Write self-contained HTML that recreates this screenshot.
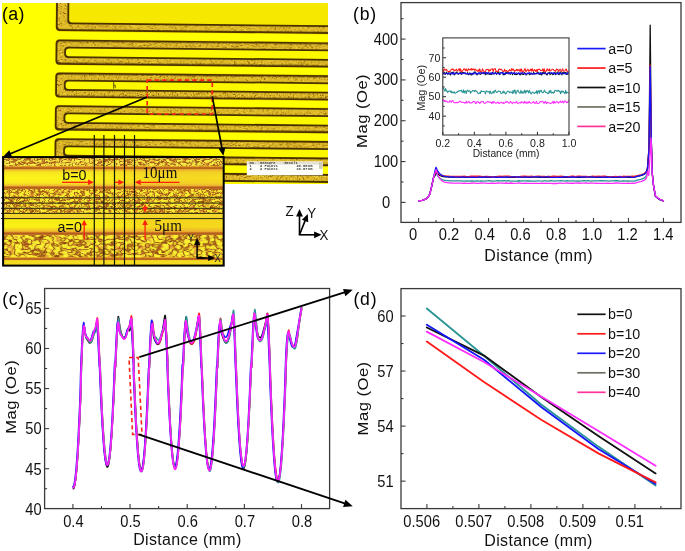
<!DOCTYPE html><html><head><meta charset="utf-8"><style>html,body{margin:0;padding:0;background:#fff;overflow:hidden}svg{display:block;will-change:transform}</style></head><body>
<svg width="685" height="551" viewBox="0 0 685 551">
<rect width="685" height="551" fill="#fff"/>
<defs>
<clipPath id="photo"><rect x="2" y="3" width="326" height="181"/></clipPath>
<clipPath id="ins"><rect x="3" y="157" width="220.5" height="108.5"/></clipPath>
<filter id="soft" x="-2%" y="-2%" width="104%" height="104%"><feGaussianBlur stdDeviation="0.45"/></filter>
<filter id="spk" x="0" y="0" width="100%" height="100%" color-interpolation-filters="sRGB">
<feTurbulence type="fractalNoise" baseFrequency="0.7 1.1" numOctaves="2" seed="4" result="n"/>
<feColorMatrix in="n" type="matrix" values="0 0 0 0 0.97  0 0 0 0 0.85  0 0 0 0 0.22  6 0 0 0 -3.3" result="s1"/>
<feColorMatrix in="n" type="matrix" values="0 0 0 0 0.52  0 0 0 0 0.33  0 0 0 0 0.03  0 -6 0 0 2.5" result="s2"/>
<feMerge result="m"><feMergeNode in="SourceGraphic"/><feMergeNode in="s1"/><feMergeNode in="s2"/></feMerge>
<feComposite in="m" in2="SourceGraphic" operator="in"/>
</filter>
<filter id="spk2" x="0" y="0" width="100%" height="100%" color-interpolation-filters="sRGB">
<feTurbulence type="fractalNoise" baseFrequency="0.2 0.3" numOctaves="2" seed="11" result="n"/>
<feColorMatrix in="n" type="matrix" values="0 0 0 0 0.62  0 0 0 0 0.30  0 0 0 0 0.08  1 0 0 0 0" result="a"/>
<feComponentTransfer in="a" result="s"><feFuncA type="table" tableValues="0 0 0 0 0.1 0.95 0.1 0 0 0 0"/></feComponentTransfer>
<feColorMatrix in="n" type="matrix" values="0 0 0 0 0.90  0 0 0 0 0.62  0 0 0 0 0.20  0 6 0 0 -3.4" result="s2"/>
<feColorMatrix in="n" type="matrix" values="0 0 0 0 0.55  0 0 0 0 0.27  0 0 0 0 0.07  0 -7 0 0 2.45" result="s3"/>
<feMerge result="m"><feMergeNode in="SourceGraphic"/><feMergeNode in="s2"/><feMergeNode in="s3"/><feMergeNode in="s"/></feMerge>
<feComposite in="m" in2="SourceGraphic" operator="in" result="c"/>
<feGaussianBlur in="c" stdDeviation="0.3"/>
</filter>
<filter id="spk3" x="0" y="0" width="100%" height="100%" color-interpolation-filters="sRGB">
<feTurbulence type="fractalNoise" baseFrequency="0.13 0.2" numOctaves="2" seed="23" result="n"/>
<feColorMatrix in="n" type="matrix" values="0 0 0 0 0.60  0 0 0 0 0.30  0 0 0 0 0.08  1 0 0 0 0" result="a"/>
<feComponentTransfer in="a" result="s"><feFuncA type="table" tableValues="0 0 0 0 0.15 0.95 0.15 0 0 0 0"/></feComponentTransfer>
<feColorMatrix in="n" type="matrix" values="0 0 0 0 0.90  0 0 0 0 0.64  0 0 0 0 0.22  0 6 0 0 -3.5" result="s2"/>
<feColorMatrix in="n" type="matrix" values="0 0 0 0 0.55  0 0 0 0 0.27  0 0 0 0 0.07  0 -7 0 0 2.45" result="s3"/>
<feMerge result="m"><feMergeNode in="SourceGraphic"/><feMergeNode in="s2"/><feMergeNode in="s3"/><feMergeNode in="s"/></feMerge>
<feComposite in="m" in2="SourceGraphic" operator="in" result="c"/>
<feGaussianBlur in="c" stdDeviation="0.3"/>
</filter>
<linearGradient id="gy1" x1="0" y1="0" x2="0" y2="1">
<stop offset="0" stop-color="#eab02c"/><stop offset="0.15" stop-color="#f8e620"/><stop offset="0.5" stop-color="#fcf618"/><stop offset="0.82" stop-color="#f8e822"/><stop offset="1" stop-color="#ecb434"/></linearGradient>
<linearGradient id="gy2" x1="0" y1="0" x2="0" y2="1">
<stop offset="0" stop-color="#f6ec14"/><stop offset="0.6" stop-color="#fcf214"/><stop offset="1" stop-color="#eab030"/></linearGradient>
<linearGradient id="gh" gradientUnits="userSpaceOnUse" x1="3" y1="0" x2="224" y2="0">
<stop offset="0" stop-color="#e8a030" stop-opacity="0"/><stop offset="0.45" stop-color="#e8a030" stop-opacity="0.05"/><stop offset="0.7" stop-color="#e8a030" stop-opacity="0.35"/><stop offset="1" stop-color="#e8a030" stop-opacity="0.3"/></linearGradient>
<linearGradient id="edge" x1="0" y1="0" x2="0" y2="1">
<stop offset="0" stop-color="#e0902a"/><stop offset="0.5" stop-color="#b05a1c"/><stop offset="1" stop-color="#c87a28"/></linearGradient>
</defs>
<g clip-path="url(#photo)">
<rect x="2" y="3" width="326" height="181" fill="#ffff00"/>
<g filter="url(#soft)"><g transform="rotate(0.6 150 90)">
<rect x="54.6" y="-30.6" width="400" height="63.2" rx="4.5" fill="#f4dc00"/>
<rect x="55.2" y="-30" width="400" height="62" rx="4" fill="#4a3004"/>
<rect x="57" y="-28.2" width="400" height="58.4" rx="3" fill="#dcb828" filter="url(#spk)"/>
<rect x="66.6" y="-31.8" width="400" height="57" rx="4" fill="#4a3004"/>
<rect x="68.4" y="-30" width="400" height="53.4" rx="3" fill="#f7e802"/>
<rect x="54.6" y="39.9" width="400" height="26.3" rx="4.5" fill="#f4dc00"/>
<rect x="55.2" y="40.5" width="400" height="25.1" rx="4" fill="#4a3004"/>
<rect x="57" y="42.3" width="400" height="21.5" rx="3" fill="#dcb828" filter="url(#spk)"/>
<rect x="63.8" y="47.6" width="400" height="11.2" rx="4" fill="#4a3004"/>
<rect x="65.6" y="49.4" width="400" height="7.6" rx="3" fill="#fcf800"/>
<rect x="54.6" y="72.8" width="400" height="26.3" rx="4.5" fill="#f4dc00"/>
<rect x="55.2" y="73.4" width="400" height="25.1" rx="4" fill="#4a3004"/>
<rect x="57" y="75.2" width="400" height="21.5" rx="3" fill="#dcb828" filter="url(#spk)"/>
<rect x="63.8" y="80.5" width="400" height="11.2" rx="4" fill="#4a3004"/>
<rect x="65.6" y="82.3" width="400" height="7.6" rx="3" fill="#fcf800"/>
<rect x="54.6" y="105.7" width="400" height="26.3" rx="4.5" fill="#f4dc00"/>
<rect x="55.2" y="106.3" width="400" height="25.1" rx="4" fill="#4a3004"/>
<rect x="57" y="108.1" width="400" height="21.5" rx="3" fill="#dcb828" filter="url(#spk)"/>
<rect x="63.8" y="113.4" width="400" height="11.2" rx="4" fill="#4a3004"/>
<rect x="65.6" y="115.2" width="400" height="7.6" rx="3" fill="#fcf800"/>
<rect x="54.6" y="138.6" width="400" height="26.3" rx="4.5" fill="#f4dc00"/>
<rect x="55.2" y="139.2" width="400" height="25.1" rx="4" fill="#4a3004"/>
<rect x="57" y="141" width="400" height="21.5" rx="3" fill="#dcb828" filter="url(#spk)"/>
<rect x="63.8" y="146.3" width="400" height="11.2" rx="4" fill="#4a3004"/>
<rect x="65.6" y="148.1" width="400" height="7.6" rx="3" fill="#fcf800"/>
<rect x="54.6" y="171.5" width="400" height="26.3" rx="4.5" fill="#f4dc00"/>
<rect x="55.2" y="172.1" width="400" height="25.1" rx="4" fill="#4a3004"/>
<rect x="57" y="173.9" width="400" height="21.5" rx="3" fill="#dcb828" filter="url(#spk)"/>
<rect x="63.8" y="179.2" width="400" height="11.2" rx="4" fill="#4a3004"/>
<rect x="65.6" y="181" width="400" height="7.6" rx="3" fill="#fcf800"/>
<rect x="54.6" y="204.4" width="400" height="26.3" rx="4.5" fill="#f4dc00"/>
<rect x="55.2" y="205" width="400" height="25.1" rx="4" fill="#4a3004"/>
<rect x="57" y="206.8" width="400" height="21.5" rx="3" fill="#dcb828" filter="url(#spk)"/>
<rect x="63.8" y="212.1" width="400" height="11.2" rx="4" fill="#4a3004"/>
<rect x="65.6" y="213.9" width="400" height="7.6" rx="3" fill="#fcf800"/>
<path d="M113.6 81 V89.2 M113.6 85.5 h1.6 v3" fill="none" stroke="#5a4a10" stroke-width="0.9"/>
</g></g>
<rect x="246.8" y="161.4" width="76" height="13.8" fill="#fdfdf8"/>
<rect x="247.2" y="161.8" width="72" height="2.8" fill="#e4e2d6"/>
<rect x="319" y="161.8" width="3.6" height="7" fill="#cfcbb4"/>
<line x1="258.3" y1="161.8" x2="258.3" y2="164.6" stroke="#b8b6a8" stroke-width="0.4" />
<line x1="283.2" y1="161.8" x2="283.2" y2="164.6" stroke="#b8b6a8" stroke-width="0.4" />
<line x1="296.5" y1="161.8" x2="296.5" y2="164.6" stroke="#b8b6a8" stroke-width="0.4" />
<g font-family='"Liberation Mono", monospace' font-size="3.7" fill="#333" font-weight="bold">
<text x="249.6" y="164.3">No.</text><text x="260" y="164.3">Measure</text><text x="284.4" y="164.3">Result</text>
<text x="249.6" y="167.4">1</text><text x="260" y="167.4">2 Points</text><text x="296.4" y="167.4">29.88</text><text x="308" y="167.4">um</text>
<text x="249.6" y="169.9">2</text><text x="260" y="169.9">2 Points</text><text x="296.4" y="169.9">10.07</text><text x="308" y="169.9">um</text>
</g>
</g>
<g clip-path="url(#ins)">
<rect x="3" y="157" width="221" height="109" fill="#f8ee10"/>
<rect x="3" y="157" width="221" height="9.6" fill="#f6ec44" filter="url(#spk2)"/>
<rect x="3" y="166.4" width="221" height="3.2" fill="url(#edge)"/>
<rect x="3" y="169.5" width="221" height="16.6" fill="url(#gy1)"/>
<rect x="3" y="169.5" width="221" height="16.6" fill="url(#gh)"/>
<rect x="3" y="186" width="221" height="3.2" fill="url(#edge)"/>
<rect x="3" y="189" width="221" height="24.5" fill="#f8ee30" filter="url(#spk2)"/>
<rect x="3" y="213.5" width="221" height="5.2" fill="#f6d82c"/>
<rect x="3" y="218.7" width="221" height="13.4" fill="url(#gy2)"/>
<rect x="3" y="218.7" width="221" height="13.4" fill="url(#gh)"/>
<rect x="3" y="231.8" width="221" height="3.2" fill="url(#edge)"/>
<rect x="3" y="235" width="221" height="22.6" fill="#f8f030" filter="url(#spk3)"/>
<rect x="3" y="257.4" width="221" height="3" fill="url(#edge)"/>
<rect x="3" y="260.4" width="221" height="6" fill="#f6dc20"/>
</g>
<line x1="1" y1="197.8" x2="223" y2="197.8" stroke="#2a2a10" stroke-width="1.0" />
<line x1="1" y1="203.1" x2="223" y2="203.1" stroke="#2a2a10" stroke-width="1.0" />
<line x1="1" y1="208.3" x2="223" y2="208.3" stroke="#2a2a10" stroke-width="1.0" />
<line x1="1" y1="213.4" x2="223" y2="213.4" stroke="#2a2a10" stroke-width="1.0" />
<line x1="1" y1="218.6" x2="223" y2="218.6" stroke="#2a2a10" stroke-width="1.0" />
<line x1="94.3" y1="135" x2="94.3" y2="265.5" stroke="#141408" stroke-width="1.2" />
<line x1="103.9" y1="135" x2="103.9" y2="265.5" stroke="#141408" stroke-width="1.2" />
<line x1="114.5" y1="135" x2="114.5" y2="265.5" stroke="#141408" stroke-width="1.2" />
<line x1="124.5" y1="135" x2="124.5" y2="265.5" stroke="#141408" stroke-width="1.2" />
<line x1="134.5" y1="135" x2="134.5" y2="265.5" stroke="#141408" stroke-width="1.2" />
<rect x="3.1" y="157.1" width="220.6" height="108.5" fill="none" stroke="#000" stroke-width="2"/>
<rect x="147.2" y="80.1" width="65.1" height="33.9" fill="none" stroke="#ff2418" stroke-width="1.7" stroke-dasharray="4.5 3"/>
<line x1="147.2" y1="97" x2="8.47" y2="154.46" stroke="#000" stroke-width="1.7" />
<polygon points="3.3,156.6 9.31,150.21 12.07,156.86" fill="#000"/>
<line x1="212.3" y1="96.3" x2="222.37" y2="150.29" stroke="#000" stroke-width="1.7" />
<polygon points="223.4,155.8 218.39,148.6 225.47,147.28" fill="#000"/>
<line x1="62" y1="182.3" x2="89.8" y2="182.3" stroke="#ff2010" stroke-width="1.3" />
<polygon points="94,182.3 88,185.1 88,179.5" fill="#ff2010"/>
<line x1="115" y1="182.3" x2="120.1" y2="182.3" stroke="#ff2010" stroke-width="1.3" />
<polygon points="124.3,182.3 118.3,185.1 118.3,179.5" fill="#ff2010"/>
<line x1="179.5" y1="182.3" x2="138.9" y2="182.3" stroke="#ff2010" stroke-width="1.3" />
<polygon points="134.7,182.3 140.7,179.5 140.7,185.1" fill="#ff2010"/>
<line x1="145.1" y1="204.5" x2="145.1" y2="208.75" stroke="#ff2010" stroke-width="1.3" />
<polygon points="145.1,212.6 142.3,207.1 147.9,207.1" fill="#ff2010"/>
<line x1="145.1" y1="239.6" x2="145.1" y2="223.35" stroke="#ff2010" stroke-width="1.3" />
<polygon points="145.1,219.5 147.9,225 142.3,225" fill="#ff2010"/>
<line x1="84.2" y1="239.6" x2="84.2" y2="223.65" stroke="#ff2010" stroke-width="1.3" />
<polygon points="84.2,219.8 87,225.3 81.4,225.3" fill="#ff2010"/>
<text transform="translate(62.3 179.6) scale(1 1.08)" font-size="14.3" text-anchor="start" fill="#111" font-family='"Liberation Sans", sans-serif' >b=0</text>
<text transform="translate(57.6 232.4) scale(1 1.08)" font-size="14.3" text-anchor="start" fill="#111" font-family='"Liberation Sans", sans-serif' >a=0</text>
<text transform="translate(142.6 177.6) scale(1 1.08)" font-size="15" text-anchor="start" fill="#111" font-family='"Liberation Serif", serif' >10μm</text>
<text transform="translate(154.6 231) scale(1 1.08)" font-size="15" text-anchor="start" fill="#111" font-family='"Liberation Serif", serif' >5μm</text>
<line x1="197.1" y1="258" x2="197.1" y2="242.8" stroke="#000" stroke-width="1.5" />
<polygon points="197.1,237.9 200.2,244.9 194,244.9" fill="#000"/>
<line x1="197.1" y1="258" x2="205" y2="258" stroke="#000" stroke-width="1.5" />
<line x1="196.4" y1="258" x2="210.3" y2="258" stroke="#000" stroke-width="1.5" />
<polygon points="215.2,258 208.2,261 208.2,255" fill="#000"/>
<text transform="translate(187.8 241.9) scale(1 1.08)" font-size="9.5" text-anchor="start" fill="#222" font-family='"Liberation Sans", sans-serif' >Y</text>
<text transform="translate(214.4 262.3) scale(1 1.08)" font-size="9.5" text-anchor="start" fill="#222" font-family='"Liberation Sans", sans-serif' >X</text>
<text transform="translate(2 19.8) scale(1 1.08)" font-size="17.8" text-anchor="start" fill="#000" font-family='"Liberation Sans", sans-serif' letter-spacing="0.4">(a)</text>
<line x1="299.5" y1="234.8" x2="299.5" y2="214.25" stroke="#000" stroke-width="1.6" />
<polygon points="299.5,209 302.9,216.5 296.1,216.5" fill="#000"/>
<line x1="299.5" y1="234.8" x2="305.85" y2="218.88" stroke="#000" stroke-width="1.6" />
<polygon points="307.8,214 308.18,222.23 301.86,219.71" fill="#000"/>
<line x1="298.8" y1="234.8" x2="316.35" y2="234.8" stroke="#000" stroke-width="1.6" />
<polygon points="321.6,234.8 314.1,238.2 314.1,231.4" fill="#000"/>
<text transform="translate(285.6 215.6) scale(1 1.08)" font-size="13.3" text-anchor="start" fill="#111" font-family='"Liberation Sans", sans-serif' >Z</text>
<text transform="translate(307.3 218.3) scale(1 1.08)" font-size="13.3" text-anchor="start" fill="#111" font-family='"Liberation Sans", sans-serif' >Y</text>
<text transform="translate(319.6 239.7) scale(1 1.08)" font-size="13.3" text-anchor="start" fill="#111" font-family='"Liberation Sans", sans-serif' >X</text>
<polyline points="418.6,200.77 422.1,200.36 425.6,199.13 428.22,197.09 429.97,193.42 431.72,186.07 433.47,177.9 435.22,175.45 436.09,173 436.96,174.75 437.84,176.12 438.71,177.18 439.59,178.01 440.46,178.65 441.34,179.16 442.21,179.55 443.09,179.85 443.96,180.09 444.84,180.27 445.71,180.42 446.58,180.53 447.46,180.62 448.33,180.68 449.21,180.74 450.08,180.78 450.96,180.81 451.83,180.84 452.71,180.85 453.58,180.87 454.45,180.88 455.33,180.89 456.2,180.9 457.08,180.9 457.95,180.91 458.83,180.91 459.7,180.91 460.58,180.92 461.45,180.92 462.33,181.02 464.42,181.12 466.52,180.84 468.62,181.17 470.72,180.9 472.82,181 474.92,181.18 477.02,180.92 479.12,181.19 481.21,180.96 483.31,181.17 485.41,181.16 487.51,180.97 489.61,180.74 491.71,181.14 493.81,181.08 495.91,180.85 498,180.67 500.1,180.88 502.2,180.98 504.3,180.65 506.4,181.18 508.5,180.72 510.6,181.04 512.7,181.13 514.8,181.14 516.89,181.03 518.99,180.74 521.09,181.11 523.19,180.88 525.29,180.84 527.39,181 529.49,180.9 531.59,181.17 533.68,181.18 535.78,181.09 537.88,180.82 539.98,180.96 542.08,181.03 544.18,180.87 546.28,180.95 548.38,181.04 550.47,180.76 552.57,180.81 554.67,181.07 556.77,180.88 558.87,180.91 560.97,180.71 563.07,180.79 565.17,181.04 567.27,180.65 569.36,181.14 571.46,180.97 573.56,180.78 575.66,181.12 577.76,180.93 579.86,181.19 581.96,180.83 584.06,180.77 586.15,180.88 588.25,180.71 590.35,181.03 592.45,180.81 594.55,180.87 596.65,180.88 598.75,180.95 600.85,180.73 602.94,180.67 605.04,180.94 607.14,180.83 609.24,181.17 611.34,180.81 613.44,180.84 615.54,180.64 617.64,180.74 619.74,181.05 621.83,180.99 623.93,180.83 626.03,181.2 628.13,180.95 630.23,181.11 632.33,181.14 634.43,181.18 637.23,180.11 640.72,179.29 644.22,178.07 645.97,176.43 646.84,174.39 647.5,171.94 649,152.34 650.2,85.22 651.3,141.16 652.3,173.82 653.6,186.07 655.5,196.28 658.8,199.13 663.3,200.77" fill="none" stroke="#2a9494" stroke-width="1.3" stroke-linejoin="round" stroke-linecap="round" />
<polyline points="418.6,200.77 422.1,200.36 425.6,199.13 428.22,197.09 429.97,193.42 431.72,186.07 433.47,177.9 435.22,174.64 436.09,172.19 436.96,173.29 437.84,174.15 438.71,174.81 439.59,175.33 440.46,175.74 441.34,176.06 442.21,176.3 443.09,176.49 443.96,176.64 444.84,176.76 445.71,176.85 446.58,176.92 447.46,176.97 448.33,177.02 449.21,177.05 450.08,177.08 450.96,177.1 451.83,177.11 452.71,177.12 453.58,177.13 454.45,177.14 455.33,177.15 456.2,177.15 457.08,177.15 457.95,177.16 458.83,177.16 459.7,177.16 460.58,177.16 461.45,177.16 462.33,177.01 464.42,177.38 466.52,177.31 468.62,177.23 470.72,176.95 472.82,177.41 474.92,177.2 477.02,177.14 479.12,176.95 481.21,176.98 483.31,176.96 485.41,177.29 487.51,177.22 489.61,177.25 491.71,176.95 493.81,176.91 495.91,177.37 498,177.35 500.1,177.32 502.2,177.32 504.3,177.18 506.4,177.12 508.5,177.3 510.6,177.45 512.7,177.21 514.8,177.24 516.89,177.13 518.99,176.91 521.09,177.06 523.19,177.16 525.29,177.1 527.39,177.07 529.49,177.42 531.59,176.94 533.68,177.01 535.78,176.95 537.88,177 539.98,177.23 542.08,177.22 544.18,177.39 546.28,177.09 548.38,177.42 550.47,177.41 552.57,177.33 554.67,177.36 556.77,177.26 558.87,177.42 560.97,177.45 563.07,177.37 565.17,177.39 567.27,177.25 569.36,177.44 571.46,176.95 573.56,177.1 575.66,177.37 577.76,177.31 579.86,177.25 581.96,177.24 584.06,177.38 586.15,176.97 588.25,176.89 590.35,177.19 592.45,177.18 594.55,177.4 596.65,177.39 598.75,177.26 600.85,177.3 602.94,176.98 605.04,177.36 607.14,177.44 609.24,176.91 611.34,177.15 613.44,177.37 615.54,177.14 617.64,177.44 619.74,177.15 621.83,176.89 623.93,176.96 626.03,177.05 628.13,177.3 630.23,177.24 632.33,177.36 634.43,177.01 637.23,176.35 640.72,175.53 644.22,174.31 645.97,172.68 646.84,170.63 647.5,168.18 649,148.59 650.2,25.2 651.3,141.16 652.3,173.82 653.6,186.07 655.5,196.28 658.8,199.13 663.3,200.77" fill="none" stroke="#111111" stroke-width="1.3" stroke-linejoin="round" stroke-linecap="round" />
<polyline points="418.6,200.77 422.1,200.36 425.6,199.13 428.22,197.09 429.97,193.42 431.72,186.07 433.47,177.9 435.22,172.19 436.09,169.74 436.96,171.22 437.84,172.37 438.71,173.27 439.59,173.97 440.46,174.51 441.34,174.94 442.21,175.27 443.09,175.53 443.96,175.73 444.84,175.88 445.71,176 446.58,176.1 447.46,176.17 448.33,176.23 449.21,176.27 450.08,176.31 450.96,176.34 451.83,176.36 452.71,176.37 453.58,176.39 454.45,176.4 455.33,176.4 456.2,176.41 457.08,176.42 457.95,176.42 458.83,176.42 459.7,176.42 460.58,176.43 461.45,176.43 462.33,176.41 464.42,176.27 466.52,176.53 468.62,176.59 470.72,176.25 472.82,176.15 474.92,176.23 477.02,176.26 479.12,176.25 481.21,176.3 483.31,176.59 485.41,176.42 487.51,176.51 489.61,176.7 491.71,176.7 493.81,176.56 495.91,176.57 498,176.32 500.1,176.17 502.2,176.46 504.3,176.18 506.4,176.15 508.5,176.17 510.6,176.51 512.7,176.59 514.8,176.59 516.89,176.61 518.99,176.6 521.09,176.36 523.19,176.2 525.29,176.24 527.39,176.44 529.49,176.34 531.59,176.26 533.68,176.67 535.78,176.34 537.88,176.2 539.98,176.27 542.08,176.29 544.18,176.44 546.28,176.62 548.38,176.27 550.47,176.53 552.57,176.26 554.67,176.16 556.77,176.49 558.87,176.49 560.97,176.18 563.07,176.3 565.17,176.62 567.27,176.65 569.36,176.63 571.46,176.2 573.56,176.26 575.66,176.63 577.76,176.25 579.86,176.16 581.96,176.34 584.06,176.52 586.15,176.4 588.25,176.64 590.35,176.71 592.45,176.16 594.55,176.35 596.65,176.42 598.75,176.18 600.85,176.47 602.94,176.22 605.04,176.25 607.14,176.6 609.24,176.57 611.34,176.55 613.44,176.58 615.54,176.38 617.64,176.57 619.74,176.48 621.83,176.64 623.93,176.2 626.03,176.52 628.13,176.46 630.23,176.38 632.33,176.2 634.43,176.48 637.23,175.62 640.72,174.8 644.22,173.57 645.97,171.94 646.84,169.9 647.5,167.45 649,147.85 650.2,65.21 651.3,141.16 652.3,173.82 653.6,186.07 655.5,196.28 658.8,199.13 663.3,200.77" fill="none" stroke="#ff1a1a" stroke-width="1.3" stroke-linejoin="round" stroke-linecap="round" />
<polyline points="418.6,200.77 422.1,200.36 425.6,199.13 428.22,197.09 429.97,193.42 431.72,186.07 433.47,177.9 435.22,169.74 436.09,167.29 436.96,169.45 437.84,171.14 438.71,172.46 439.59,173.48 440.46,174.28 441.34,174.9 442.21,175.38 443.09,175.76 443.96,176.05 444.84,176.28 445.71,176.46 446.58,176.6 447.46,176.71 448.33,176.79 449.21,176.85 450.08,176.91 450.96,176.95 451.83,176.98 452.71,177 453.58,177.02 454.45,177.03 455.33,177.05 456.2,177.05 457.08,177.06 457.95,177.07 458.83,177.07 459.7,177.07 460.58,177.08 461.45,177.08 462.33,176.85 464.42,177.08 466.52,177.07 468.62,177.07 470.72,177.36 472.82,177.12 474.92,177.27 477.02,177.37 479.12,176.91 481.21,177.27 483.31,177.1 485.41,176.96 487.51,177.05 489.61,177.18 491.71,177.07 493.81,177.05 495.91,176.92 498,177.31 500.1,177.05 502.2,177.23 504.3,177.21 506.4,176.93 508.5,177.08 510.6,177.05 512.7,176.94 514.8,176.85 516.89,177.12 518.99,177.02 521.09,177.08 523.19,177.08 525.29,176.98 527.39,177.11 529.49,177.07 531.59,177.1 533.68,176.83 535.78,176.97 537.88,176.87 539.98,176.83 542.08,177.22 544.18,177.05 546.28,176.83 548.38,176.89 550.47,177.29 552.57,177.3 554.67,177.12 556.77,177.33 558.87,177.23 560.97,177.33 563.07,176.99 565.17,176.92 567.27,176.86 569.36,177.28 571.46,176.96 573.56,176.99 575.66,177.29 577.76,176.87 579.86,176.82 581.96,177.25 584.06,176.83 586.15,177.14 588.25,177.09 590.35,176.81 592.45,176.9 594.55,177.28 596.65,177.12 598.75,177.08 600.85,177.18 602.94,177.26 605.04,177.19 607.14,176.96 609.24,177.36 611.34,177.05 613.44,177.12 615.54,177.36 617.64,177.18 619.74,177.01 621.83,177.08 623.93,177.33 626.03,176.81 628.13,176.92 630.23,176.82 632.33,177.31 634.43,177.22 637.23,176.27 640.72,175.45 644.22,174.23 645.97,172.59 646.84,170.55 647.5,168.1 649,148.5 650.2,66.44 651.3,141.16 652.3,173.82 653.6,186.07 655.5,196.28 658.8,199.13 663.3,200.77" fill="none" stroke="#1414ff" stroke-width="1.3" stroke-linejoin="round" stroke-linecap="round" />
<polyline points="418.6,200.77 422.1,200.36 425.6,199.13 428.22,197.09 429.97,193.42 431.72,186.07 433.47,177.9 435.22,172.19 436.09,169.74 436.96,172.72 437.84,175.04 438.71,176.85 439.59,178.25 440.46,179.35 441.34,180.2 442.21,180.87 443.09,181.39 443.96,181.79 444.84,182.1 445.71,182.35 446.58,182.54 447.46,182.69 448.33,182.8 449.21,182.89 450.08,182.96 450.96,183.02 451.83,183.06 452.71,183.09 453.58,183.12 454.45,183.14 455.33,183.15 456.2,183.17 457.08,183.18 457.95,183.18 458.83,183.19 459.7,183.19 460.58,183.2 461.45,183.2 462.33,183.47 464.42,183.05 466.52,183.34 468.62,183.42 470.72,183.25 472.82,182.97 474.92,183.03 477.02,183.35 479.12,183.41 481.21,182.97 483.31,183.17 485.41,183.1 487.51,183.44 489.61,183.46 491.71,183.1 493.81,183.25 495.91,183.45 498,182.96 500.1,183.13 502.2,183.04 504.3,183.45 506.4,183.01 508.5,183.46 510.6,183 512.7,183.24 514.8,183.3 516.89,183.18 518.99,182.97 521.09,183.34 523.19,183.42 525.29,183.19 527.39,183.36 529.49,183.43 531.59,183.4 533.68,183.47 535.78,183.38 537.88,183.32 539.98,183.32 542.08,183.06 544.18,183.33 546.28,183.21 548.38,183.39 550.47,183.3 552.57,183.49 554.67,183.35 556.77,183.49 558.87,183.08 560.97,183.18 563.07,183.39 565.17,183.22 567.27,182.96 569.36,183.43 571.46,183.03 573.56,183.25 575.66,183.21 577.76,183.02 579.86,183.27 581.96,183.21 584.06,183.1 586.15,182.93 588.25,183.3 590.35,183.02 592.45,183.09 594.55,183.13 596.65,183.26 598.75,183.3 600.85,183.46 602.94,183.42 605.04,183.46 607.14,183.07 609.24,183.35 611.34,183.4 613.44,183.45 615.54,183.01 617.64,183 619.74,183.11 621.83,183.33 623.93,183.36 626.03,183.33 628.13,183.23 630.23,183.41 632.33,183.24 634.43,183.35 637.23,182.39 640.72,181.58 644.22,180.35 645.97,178.72 646.84,176.68 647.5,171.37 648.8,175.45 650.2,153.4 651.1,137.89 652,170.96 653.4,184.84 655.4,195.46 658.8,198.73 663.6,200.77" fill="none" stroke="#ff2cff" stroke-width="1.3" stroke-linejoin="round" stroke-linecap="round" />
<rect x="401" y="2.6" width="280" height="219.8" fill="none" stroke="#3a3a3a" stroke-width="1.3"/>
<line x1="418.6" y1="222.4" x2="418.6" y2="217.9" stroke="#3a3a3a" stroke-width="1.1" />
<line x1="453.58" y1="222.4" x2="453.58" y2="217.9" stroke="#3a3a3a" stroke-width="1.1" />
<line x1="488.56" y1="222.4" x2="488.56" y2="217.9" stroke="#3a3a3a" stroke-width="1.1" />
<line x1="523.54" y1="222.4" x2="523.54" y2="217.9" stroke="#3a3a3a" stroke-width="1.1" />
<line x1="558.52" y1="222.4" x2="558.52" y2="217.9" stroke="#3a3a3a" stroke-width="1.1" />
<line x1="593.5" y1="222.4" x2="593.5" y2="217.9" stroke="#3a3a3a" stroke-width="1.1" />
<line x1="628.48" y1="222.4" x2="628.48" y2="217.9" stroke="#3a3a3a" stroke-width="1.1" />
<line x1="663.46" y1="222.4" x2="663.46" y2="217.9" stroke="#3a3a3a" stroke-width="1.1" />
<line x1="436.09" y1="222.4" x2="436.09" y2="219.9" stroke="#3a3a3a" stroke-width="1.1" />
<line x1="471.07" y1="222.4" x2="471.07" y2="219.9" stroke="#3a3a3a" stroke-width="1.1" />
<line x1="506.05" y1="222.4" x2="506.05" y2="219.9" stroke="#3a3a3a" stroke-width="1.1" />
<line x1="541.03" y1="222.4" x2="541.03" y2="219.9" stroke="#3a3a3a" stroke-width="1.1" />
<line x1="576.01" y1="222.4" x2="576.01" y2="219.9" stroke="#3a3a3a" stroke-width="1.1" />
<line x1="610.99" y1="222.4" x2="610.99" y2="219.9" stroke="#3a3a3a" stroke-width="1.1" />
<line x1="645.97" y1="222.4" x2="645.97" y2="219.9" stroke="#3a3a3a" stroke-width="1.1" />
<line x1="401" y1="202.4" x2="405.5" y2="202.4" stroke="#3a3a3a" stroke-width="1.1" />
<line x1="401" y1="161.57" x2="405.5" y2="161.57" stroke="#3a3a3a" stroke-width="1.1" />
<line x1="401" y1="120.74" x2="405.5" y2="120.74" stroke="#3a3a3a" stroke-width="1.1" />
<line x1="401" y1="79.91" x2="405.5" y2="79.91" stroke="#3a3a3a" stroke-width="1.1" />
<line x1="401" y1="39.08" x2="405.5" y2="39.08" stroke="#3a3a3a" stroke-width="1.1" />
<line x1="401" y1="181.99" x2="403.5" y2="181.99" stroke="#3a3a3a" stroke-width="1.1" />
<line x1="401" y1="141.16" x2="403.5" y2="141.16" stroke="#3a3a3a" stroke-width="1.1" />
<line x1="401" y1="100.33" x2="403.5" y2="100.33" stroke="#3a3a3a" stroke-width="1.1" />
<line x1="401" y1="59.5" x2="403.5" y2="59.5" stroke="#3a3a3a" stroke-width="1.1" />
<line x1="401" y1="18.67" x2="403.5" y2="18.67" stroke="#3a3a3a" stroke-width="1.1" />
<text transform="translate(413.2 240.4) scale(1 1.08)" font-size="14.7" text-anchor="middle" fill="#111" font-family='"Liberation Sans", sans-serif' >0</text>
<text transform="translate(448.93 240.4) scale(1 1.08)" font-size="14.7" text-anchor="middle" fill="#111" font-family='"Liberation Sans", sans-serif' >0.2</text>
<text transform="translate(484.66 240.4) scale(1 1.08)" font-size="14.7" text-anchor="middle" fill="#111" font-family='"Liberation Sans", sans-serif' >0.4</text>
<text transform="translate(520.39 240.4) scale(1 1.08)" font-size="14.7" text-anchor="middle" fill="#111" font-family='"Liberation Sans", sans-serif' >0.6</text>
<text transform="translate(556.12 240.4) scale(1 1.08)" font-size="14.7" text-anchor="middle" fill="#111" font-family='"Liberation Sans", sans-serif' >0.8</text>
<text transform="translate(591.85 240.4) scale(1 1.08)" font-size="14.7" text-anchor="middle" fill="#111" font-family='"Liberation Sans", sans-serif' >1.0</text>
<text transform="translate(627.58 240.4) scale(1 1.08)" font-size="14.7" text-anchor="middle" fill="#111" font-family='"Liberation Sans", sans-serif' >1.2</text>
<text transform="translate(663.31 240.4) scale(1 1.08)" font-size="14.7" text-anchor="middle" fill="#111" font-family='"Liberation Sans", sans-serif' >1.4</text>
<text transform="translate(386 207.9) scale(1 1.08)" font-size="14.7" text-anchor="middle" fill="#111" font-family='"Liberation Sans", sans-serif' >0</text>
<text transform="translate(386 167.07) scale(1 1.08)" font-size="14.7" text-anchor="middle" fill="#111" font-family='"Liberation Sans", sans-serif' >100</text>
<text transform="translate(386 126.24) scale(1 1.08)" font-size="14.7" text-anchor="middle" fill="#111" font-family='"Liberation Sans", sans-serif' >200</text>
<text transform="translate(386 85.41) scale(1 1.08)" font-size="14.7" text-anchor="middle" fill="#111" font-family='"Liberation Sans", sans-serif' >300</text>
<text transform="translate(386 44.58) scale(1 1.08)" font-size="14.7" text-anchor="middle" fill="#111" font-family='"Liberation Sans", sans-serif' >400</text>
<text transform="translate(538.6 261.3) scale(1 1.08)" font-size="16" text-anchor="middle" fill="#111" font-family='"Liberation Sans", sans-serif' letter-spacing="0.35">Distance (mm)</text>
<text transform="translate(367.3 110.9) scale(1 1.08) rotate(-90)" font-size="15.4" text-anchor="middle" fill="#111" font-family='"Liberation Sans", sans-serif' letter-spacing="0.45">Mag (Oe)</text>
<text transform="translate(353.1 20.2) scale(1 1.08)" font-size="17.6" text-anchor="start" fill="#000" font-family='"Liberation Sans", sans-serif' letter-spacing="0.8">(b)</text>
<line x1="577.3" y1="48.6" x2="605.6" y2="48.6" stroke="#1a1aff" stroke-width="1.7" />
<text transform="translate(608.3 53.7) scale(1 1.08)" font-size="14.3" text-anchor="start" fill="#111" font-family='"Liberation Sans", sans-serif' >a=0</text>
<line x1="577.3" y1="68.05" x2="605.6" y2="68.05" stroke="#ff1a1a" stroke-width="1.7" />
<text transform="translate(608.3 73.15) scale(1 1.08)" font-size="14.3" text-anchor="start" fill="#111" font-family='"Liberation Sans", sans-serif' >a=5</text>
<line x1="577.3" y1="87.5" x2="605.6" y2="87.5" stroke="#111111" stroke-width="1.7" />
<text transform="translate(608.3 92.6) scale(1 1.08)" font-size="14.3" text-anchor="start" fill="#111" font-family='"Liberation Sans", sans-serif' >a=10</text>
<line x1="577.3" y1="106.95" x2="605.6" y2="106.95" stroke="#6b7262" stroke-width="1.7" />
<text transform="translate(608.3 112.05) scale(1 1.08)" font-size="14.3" text-anchor="start" fill="#111" font-family='"Liberation Sans", sans-serif' >a=15</text>
<line x1="577.3" y1="126.4" x2="605.6" y2="126.4" stroke="#ff3399" stroke-width="1.7" />
<text transform="translate(608.3 131.5) scale(1 1.08)" font-size="14.3" text-anchor="start" fill="#111" font-family='"Liberation Sans", sans-serif' >a=20</text>
<rect x="442.8" y="37.9" width="126.2" height="97.1" fill="#fff"/>
<polyline points="442.8,87.86 443.51,87.99 444.22,89.8 444.93,91.13 445.64,88.45 446.35,91.13 447.06,91.07 447.77,92.56 448.48,91.18 449.19,90.91 449.9,90.88 450.61,92.14 451.32,91.03 452.03,93.04 452.74,92.1 453.45,92.84 454.16,91.68 454.87,93.13 455.58,93.25 456.29,92.2 457,92.52 457.71,91.18 458.42,91.43 459.13,90.61 459.84,91 460.55,90.8 461.26,90.19 461.97,92.12 462.68,92.39 463.39,89.84 464.1,93.12 464.81,90.9 465.52,91.23 466.23,93.58 466.94,90.51 467.65,90.3 468.36,91.34 469.07,90.94 469.78,90.65 470.49,93.28 471.2,91.79 471.9,91.87 472.61,90.59 473.32,90.72 474.03,90.64 474.74,91.59 475.45,90.39 476.16,91.22 476.87,91.18 477.58,92.99 478.29,93.77 479,93.37 479.71,92.49 480.42,93.49 481.13,90.65 481.84,91.73 482.55,91.46 483.26,91.47 483.97,91.26 484.68,92.01 485.39,93.91 486.1,90.81 486.81,91.01 487.52,91.96 488.23,91.84 488.94,91.36 489.65,93.67 490.36,91.06 491.07,92.95 491.78,93.64 492.49,92.9 493.2,91.09 493.91,93.13 494.62,91.05 495.33,90.14 496.04,92.01 496.75,92.45 497.46,92.07 498.17,91.28 498.88,90.95 499.59,91.54 500.3,91.44 501.01,93.64 501.72,93.37 502.43,92.95 503.14,91.05 503.85,92.76 504.56,91.73 505.27,93.89 505.98,93.71 506.69,92.89 507.4,91.32 508.11,91.25 508.82,91.31 509.53,92.81 510.24,91.93 510.95,92.13 511.66,92.13 512.37,93.48 513.08,90.46 513.79,93.17 514.5,90.13 515.21,90.3 515.92,93.88 516.63,92.16 517.34,90.75 518.05,90.17 518.76,92.19 519.47,92.9 520.18,93.13 520.89,90.26 521.6,93.12 522.31,91.68 523.02,93.39 523.73,91.9 524.44,90.23 525.15,93.43 525.86,90.75 526.57,91.96 527.28,90.49 527.98,91.21 528.69,93.04 529.4,90.45 530.11,92.05 530.82,93.85 531.53,93.93 532.24,92.03 532.95,92.19 533.66,92.77 534.37,93.4 535.08,92.6 535.79,92.71 536.5,90.67 537.21,93.94 537.92,91.02 538.63,90.68 539.34,93.48 540.05,90.34 540.76,91.17 541.47,90.43 542.18,92.82 542.89,92.49 543.6,92.41 544.31,90.05 545.02,91.65 545.73,92.54 546.44,92.28 547.15,92.87 547.86,93.76 548.57,93.55 549.28,90.69 549.99,92.83 550.7,90.3 551.41,92.97 552.12,92.91 552.83,91.95 553.54,93.2 554.25,92.49 554.96,90.22 555.67,90.5 556.38,90.78 557.09,91.49 557.8,90.39 558.51,90.28 559.22,91.81 559.93,91.14 560.64,93.75 561.35,91.09 562.06,92.19 562.77,91.01 563.48,91.43 564.19,92.83 564.9,93.75 565.61,90.34 566.32,93.45 567.03,92.11 567.74,92.61 568.45,92.78" fill="none" stroke="#2a9494" stroke-width="1.05" stroke-linejoin="round" stroke-linecap="round" />
<polyline points="442.8,100.2 443.51,99.74 444.22,101.51 444.93,100.67 445.64,101.58 446.35,101.05 447.06,101.51 447.77,102.11 448.48,102.18 449.19,102.14 449.9,100.56 450.61,101.57 451.32,102.27 452.03,100.72 452.74,100.55 453.45,101.87 454.16,102.64 454.87,102.56 455.58,102.83 456.29,102.28 457,102.9 457.71,102.58 458.42,102.57 459.13,101.87 459.84,101.15 460.55,101.5 461.26,102.31 461.97,102.33 462.68,102.09 463.39,102.46 464.1,102.56 464.81,103.23 465.52,102.74 466.23,101.14 466.94,103.13 467.65,102.26 468.36,101.98 469.07,101.44 469.78,102.97 470.49,102.85 471.2,102.91 471.9,102.57 472.61,102.47 473.32,101.29 474.03,101.55 474.74,101.5 475.45,103.5 476.16,103.48 476.87,101.9 477.58,101.48 478.29,102.47 479,102.21 479.71,103.58 480.42,102.68 481.13,101.43 481.84,101.67 482.55,101.61 483.26,101.34 483.97,103.03 484.68,103.36 485.39,103.26 486.1,102.4 486.81,102.03 487.52,101.43 488.23,101.95 488.94,102.12 489.65,101.85 490.36,102.57 491.07,102.35 491.78,103.55 492.49,101.82 493.2,103.1 493.91,101.5 494.62,102.14 495.33,102.94 496.04,103.35 496.75,103.07 497.46,102.17 498.17,102.03 498.88,103.4 499.59,103.5 500.3,102.44 501.01,102.3 501.72,102.76 502.43,103.14 503.14,102.26 503.85,103.64 504.56,102.96 505.27,102.59 505.98,101.43 506.69,102.16 507.4,101.6 508.11,102.56 508.82,103.12 509.53,103.09 510.24,101.43 510.95,102.02 511.66,102.95 512.37,103.62 513.08,102.51 513.79,102.1 514.5,102.69 515.21,103.07 515.92,102.11 516.63,101.51 517.34,103.14 518.05,103.6 518.76,102.89 519.47,102.69 520.18,102.08 520.89,103.21 521.6,101.81 522.31,101.95 523.02,102.5 523.73,103.2 524.44,101.41 525.15,102.95 525.86,101.76 526.57,103.14 527.28,103.16 527.98,101.9 528.69,102.99 529.4,101.45 530.11,102.52 530.82,103.24 531.53,103.16 532.24,102.7 532.95,102.12 533.66,101.46 534.37,103.34 535.08,102.76 535.79,103.18 536.5,101.4 537.21,103.35 537.92,103.56 538.63,103.54 539.34,102.76 540.05,101.58 540.76,101.61 541.47,101.97 542.18,101.35 542.89,101.5 543.6,102.91 544.31,103.25 545.02,101.49 545.73,101.94 546.44,103.6 547.15,102.13 547.86,102.79 548.57,102.81 549.28,102.9 549.99,103.28 550.7,103.67 551.41,103.03 552.12,102.86 552.83,101.45 553.54,103.37 554.25,101.35 554.96,103.07 555.67,102.66 556.38,101.53 557.09,101.47 557.8,102.33 558.51,103.17 559.22,102.13 559.93,102.31 560.64,100.98 561.35,102.63 562.06,102.17 562.77,100.88 563.48,102.85 564.19,101.91 564.9,100.92 565.61,100.97 566.32,102.61 567.03,102.58 567.74,102.46 568.45,100.4" fill="none" stroke="#ff2cff" stroke-width="1.05" stroke-linejoin="round" stroke-linecap="round" />
<polyline points="442.8,74.26 443.51,72.73 444.22,72.26 444.93,74 445.64,74.21 446.35,72.07 447.06,73.14 447.77,74.24 448.48,72.83 449.19,74.07 449.9,74.2 450.61,75.05 451.32,72.7 452.03,72.2 452.74,73.08 453.45,72.12 454.16,74.98 454.87,74.33 455.58,73.58 456.29,72.08 457,72.09 457.71,73.85 458.42,74.28 459.13,73.72 459.84,73.52 460.55,72.17 461.26,74.49 461.97,72.56 462.68,72.76 463.39,72.5 464.1,72.65 464.81,73.17 465.52,74.04 466.23,74.06 466.94,73.93 467.65,72.62 468.36,74.81 469.07,74.44 469.78,72.71 470.49,74.29 471.2,74.86 471.9,74.95 472.61,73.34 473.32,74.04 474.03,72 474.74,72.31 475.45,71.98 476.16,74.23 476.87,74.8 477.58,74.76 478.29,73.51 479,72.85 479.71,73.67 480.42,74.33 481.13,73.76 481.84,73.13 482.55,72.96 483.26,72.73 483.97,72.42 484.68,72.99 485.39,74.68 486.1,72.44 486.81,74.14 487.52,73.29 488.23,73.9 488.94,72.76 489.65,74.44 490.36,74.29 491.07,74.29 491.78,74.58 492.49,72.3 493.2,73.26 493.91,74.04 494.62,73.82 495.33,71.97 496.04,73.48 496.75,74.34 497.46,72.54 498.17,73.02 498.88,71.97 499.59,74.74 500.3,73.58 501.01,72.51 501.72,72.44 502.43,72.21 503.14,74.93 503.85,74.14 504.56,74.69 505.27,74.47 505.98,72.03 506.69,73.24 507.4,72.16 508.11,73.9 508.82,72.36 509.53,73.66 510.24,74.25 510.95,72.64 511.66,72.11 512.37,74.73 513.08,73.2 513.79,73.13 514.5,74.38 515.21,73.91 515.92,74.62 516.63,74.42 517.34,74.26 518.05,73.19 518.76,73.03 519.47,74.42 520.18,75.02 520.89,74.04 521.6,72.95 522.31,74.48 523.02,74.09 523.73,74.42 524.44,72.58 525.15,73.35 525.86,74.86 526.57,74.74 527.28,73.83 527.98,73.34 528.69,73.07 529.4,74.77 530.11,74.55 530.82,72.89 531.53,73.78 532.24,74.18 532.95,74.1 533.66,72.09 534.37,74.09 535.08,73.29 535.79,73.95 536.5,73.76 537.21,72.37 537.92,71.95 538.63,73.93 539.34,74.44 540.05,72.79 540.76,74.42 541.47,75.04 542.18,72.25 542.89,73.74 543.6,72.5 544.31,73.79 545.02,72.31 545.73,73.62 546.44,74.55 547.15,75.01 547.86,73.34 548.57,73.06 549.28,72.22 549.99,74.78 550.7,73.12 551.41,73.9 552.12,73.49 552.83,74.6 553.54,74.18 554.25,73.43 554.96,72.18 555.67,74.72 556.38,73.53 557.09,72.55 557.8,72.05 558.51,74.44 559.22,74.66 559.93,72.12 560.64,72.02 561.35,73.55 562.06,74.89 562.77,72.17 563.48,73.85 564.19,72.24 564.9,73.13 565.61,72.49 566.32,74.56 567.03,72.61 567.74,74.37 568.45,73.8" fill="none" stroke="#111111" stroke-width="1.05" stroke-linejoin="round" stroke-linecap="round" />
<polyline points="442.8,72.7 443.51,72.73 444.22,73.86 444.93,73.8 445.64,73.48 446.35,73.27 447.06,73.51 447.77,73.97 448.48,73.75 449.19,72.91 449.9,72.61 450.61,74.11 451.32,73.2 452.03,72.85 452.74,74.12 453.45,72.71 454.16,73.98 454.87,73.13 455.58,73.22 456.29,73.08 457,73.65 457.71,73.45 458.42,73.16 459.13,73.44 459.84,73.03 460.55,73.4 461.26,73.41 461.97,74.14 462.68,73.1 463.39,73.32 464.1,73.77 464.81,72.84 465.52,72.82 466.23,73.38 466.94,73.87 467.65,73.35 468.36,73.99 469.07,73.96 469.78,73.43 470.49,74.02 471.2,73.41 471.9,73.29 472.61,74.11 473.32,73.07 474.03,74.04 474.74,72.9 475.45,72.82 476.16,73.29 476.87,74.09 477.58,73.3 478.29,73.52 479,72.52 479.71,73.94 480.42,72.68 481.13,72.44 481.84,72.9 482.55,72.75 483.26,73.84 483.97,72.46 484.68,73.32 485.39,72.51 486.1,72.58 486.81,73.89 487.52,72.8 488.23,72.55 488.94,74.07 489.65,73.57 490.36,72.86 491.07,73.9 491.78,72.61 492.49,73.7 493.2,72.75 493.91,73.93 494.62,73.3 495.33,72.57 496.04,73.82 496.75,73.72 497.46,73.3 498.17,73.62 498.88,74.12 499.59,73.86 500.3,73.9 501.01,72.54 501.72,72.99 502.43,72.61 503.14,73.89 503.85,72.81 504.56,73.98 505.27,73.25 505.98,73.07 506.69,73.55 507.4,72.65 508.11,73.21 508.82,73.17 509.53,72.64 510.24,74 510.95,72.44 511.66,73.08 512.37,73.49 513.08,72.78 513.79,73.72 514.5,72.45 515.21,73.17 515.92,73.55 516.63,72.84 517.34,73.41 518.05,73.87 518.76,72.88 519.47,74.1 520.18,72.75 520.89,73.74 521.6,73.06 522.31,72.46 523.02,73.16 523.73,73.02 524.44,73.63 525.15,74.18 525.86,74.12 526.57,73.92 527.28,73.1 527.98,73.42 528.69,73.28 529.4,72.61 530.11,73.95 530.82,73.78 531.53,73.04 532.24,74.14 532.95,74.18 533.66,73.56 534.37,74 535.08,73.56 535.79,73.79 536.5,73.16 537.21,73.15 537.92,73.82 538.63,73.09 539.34,73.35 540.05,73.95 540.76,72.54 541.47,73.76 542.18,73.92 542.89,74.01 543.6,73.06 544.31,72.66 545.02,72.81 545.73,73.48 546.44,73.72 547.15,74.16 547.86,73.05 548.57,73.2 549.28,73.57 549.99,73.05 550.7,73.4 551.41,72.54 552.12,72.9 552.83,73.75 553.54,72.6 554.25,74.11 554.96,73.25 555.67,73.47 556.38,73.77 557.09,74.08 557.8,72.82 558.51,74.16 559.22,73.22 559.93,72.53 560.64,73.93 561.35,73.83 562.06,73.12 562.77,73.29 563.48,73.06 564.19,72.76 564.9,73.88 565.61,73.64 566.32,73.66 567.03,74.1 567.74,72.62 568.45,72.81" fill="none" stroke="#1414ff" stroke-width="1.05" stroke-linejoin="round" stroke-linecap="round" />
<polyline points="442.8,69.44 443.51,71.92 444.22,68.98 444.93,69.33 445.64,70.31 446.35,69.34 447.06,70.36 447.77,71.15 448.48,71.57 449.19,71.13 449.9,71.81 450.61,70.77 451.32,69.32 452.03,69.51 452.74,68.98 453.45,69.45 454.16,71.01 454.87,70 455.58,70.41 456.29,69.18 457,70.11 457.71,71.01 458.42,69.69 459.13,68.56 459.84,71.18 460.55,68.86 461.26,71.89 461.97,71.03 462.68,71.12 463.39,69.34 464.1,68.63 464.81,69.33 465.52,70.8 466.23,68.86 466.94,70.79 467.65,71.1 468.36,68.76 469.07,69.73 469.78,69.51 470.49,69.61 471.2,68.51 471.9,70.3 472.61,69 473.32,69.5 474.03,68.94 474.74,70.41 475.45,69.4 476.16,69.94 476.87,70.86 477.58,71.2 478.29,69.76 479,71.67 479.71,68.75 480.42,71.44 481.13,71.85 481.84,71.57 482.55,68.69 483.26,70.73 483.97,71.45 484.68,71.84 485.39,71.8 486.1,69.52 486.81,69.72 487.52,69.5 488.23,69.36 488.94,71.71 489.65,69.87 490.36,70.67 491.07,69.08 491.78,69.07 492.49,68.82 493.2,71.71 493.91,68.9 494.62,68.74 495.33,68.63 496.04,71.57 496.75,71.22 497.46,71.55 498.17,71.82 498.88,68.97 499.59,69.1 500.3,69.72 501.01,69.05 501.72,69.73 502.43,70.94 503.14,71.59 503.85,71.6 504.56,69.29 505.27,71.22 505.98,70.82 506.69,70.46 507.4,71.87 508.11,71.04 508.82,70.95 509.53,69.43 510.24,70.65 510.95,70.82 511.66,68.56 512.37,70.18 513.08,68.96 513.79,69.78 514.5,71.83 515.21,70.5 515.92,70.41 516.63,69.23 517.34,70.73 518.05,69.47 518.76,70.06 519.47,71.18 520.18,68.92 520.89,71.62 521.6,69.07 522.31,71.35 523.02,71.94 523.73,71.24 524.44,69.27 525.15,68.52 525.86,71.93 526.57,70.22 527.28,70.22 527.98,69.15 528.69,71.3 529.4,70.21 530.11,70.73 530.82,69.03 531.53,71.03 532.24,68.64 532.95,70.95 533.66,71.19 534.37,69.49 535.08,70.2 535.79,71.56 536.5,69.71 537.21,71.66 537.92,69.18 538.63,69.5 539.34,69.19 540.05,69.74 540.76,70.7 541.47,70.54 542.18,70.56 542.89,68.82 543.6,71.64 544.31,68.83 545.02,71.85 545.73,71.22 546.44,71.02 547.15,68.78 547.86,70.19 548.57,70.61 549.28,68.85 549.99,71.12 550.7,70.33 551.41,70.08 552.12,69.3 552.83,69.3 553.54,69.68 554.25,70.72 554.96,70.8 555.67,71.4 556.38,68.99 557.09,69.62 557.8,69.34 558.51,71.35 559.22,70.41 559.93,69.23 560.64,69.91 561.35,71.5 562.06,70.32 562.77,68.84 563.48,71.11 564.19,71.27 564.9,70.89 565.61,69.48 566.32,68.99 567.03,71.4 567.74,71.4 568.45,71.08" fill="none" stroke="#ff1a1a" stroke-width="1.05" stroke-linejoin="round" stroke-linecap="round" />
<rect x="442.8" y="37.9" width="126.2" height="97.1" fill="none" stroke="#3a3a3a" stroke-width="1.1"/>
<line x1="442.8" y1="135" x2="442.8" y2="131.8" stroke="#3a3a3a" stroke-width="1.1" />
<line x1="474.35" y1="135" x2="474.35" y2="131.8" stroke="#3a3a3a" stroke-width="1.1" />
<line x1="505.9" y1="135" x2="505.9" y2="131.8" stroke="#3a3a3a" stroke-width="1.1" />
<line x1="537.45" y1="135" x2="537.45" y2="131.8" stroke="#3a3a3a" stroke-width="1.1" />
<line x1="569" y1="135" x2="569" y2="131.8" stroke="#3a3a3a" stroke-width="1.1" />
<line x1="458.57" y1="135" x2="458.57" y2="133.2" stroke="#3a3a3a" stroke-width="1.1" />
<line x1="490.12" y1="135" x2="490.12" y2="133.2" stroke="#3a3a3a" stroke-width="1.1" />
<line x1="521.67" y1="135" x2="521.67" y2="133.2" stroke="#3a3a3a" stroke-width="1.1" />
<line x1="553.23" y1="135" x2="553.23" y2="133.2" stroke="#3a3a3a" stroke-width="1.1" />
<line x1="442.8" y1="116.14" x2="446" y2="116.14" stroke="#3a3a3a" stroke-width="1.1" />
<line x1="442.8" y1="96.67" x2="446" y2="96.67" stroke="#3a3a3a" stroke-width="1.1" />
<line x1="442.8" y1="77.2" x2="446" y2="77.2" stroke="#3a3a3a" stroke-width="1.1" />
<line x1="442.8" y1="57.73" x2="446" y2="57.73" stroke="#3a3a3a" stroke-width="1.1" />
<line x1="442.8" y1="125.88" x2="444.6" y2="125.88" stroke="#3a3a3a" stroke-width="1.1" />
<line x1="442.8" y1="106.41" x2="444.6" y2="106.41" stroke="#3a3a3a" stroke-width="1.1" />
<line x1="442.8" y1="86.94" x2="444.6" y2="86.94" stroke="#3a3a3a" stroke-width="1.1" />
<line x1="442.8" y1="67.47" x2="444.6" y2="67.47" stroke="#3a3a3a" stroke-width="1.1" />
<line x1="442.8" y1="48" x2="444.6" y2="48" stroke="#3a3a3a" stroke-width="1.1" />
<text transform="translate(442.8 146.6) scale(1 1.08)" font-size="10.6" text-anchor="middle" fill="#222" font-family='"Liberation Sans", sans-serif' >0.2</text>
<text transform="translate(474.35 146.6) scale(1 1.08)" font-size="10.6" text-anchor="middle" fill="#222" font-family='"Liberation Sans", sans-serif' >0.4</text>
<text transform="translate(505.9 146.6) scale(1 1.08)" font-size="10.6" text-anchor="middle" fill="#222" font-family='"Liberation Sans", sans-serif' >0.6</text>
<text transform="translate(537.45 146.6) scale(1 1.08)" font-size="10.6" text-anchor="middle" fill="#222" font-family='"Liberation Sans", sans-serif' >0.8</text>
<text transform="translate(569 146.6) scale(1 1.08)" font-size="10.6" text-anchor="middle" fill="#222" font-family='"Liberation Sans", sans-serif' >1.0</text>
<text transform="translate(440.4 119.94) scale(1 1.08)" font-size="10.6" text-anchor="end" fill="#222" font-family='"Liberation Sans", sans-serif' >40</text>
<text transform="translate(440.4 100.47) scale(1 1.08)" font-size="10.6" text-anchor="end" fill="#222" font-family='"Liberation Sans", sans-serif' >50</text>
<text transform="translate(440.4 81) scale(1 1.08)" font-size="10.6" text-anchor="end" fill="#222" font-family='"Liberation Sans", sans-serif' >60</text>
<text transform="translate(440.4 61.53) scale(1 1.08)" font-size="10.6" text-anchor="end" fill="#222" font-family='"Liberation Sans", sans-serif' >70</text>
<text transform="translate(506.1 156.7) scale(1 1.08)" font-size="10.3" text-anchor="middle" fill="#222" font-family='"Liberation Sans", sans-serif' >Distance (mm)</text>
<text transform="translate(424.6 87.8) scale(1 1.08) rotate(-90)" font-size="10.1" text-anchor="middle" fill="#222" font-family='"Liberation Sans", sans-serif'>Mag (Oe)</text>
<path d="M73.3,488.8 C73.43,488.61 73.83,488.42 74.1,487.67 C74.37,486.91 74.63,485.79 74.9,484.28 C75.17,482.78 75.43,480.9 75.7,478.64 C75.97,476.38 76.23,473.75 76.5,470.74 C76.77,467.73 77.03,464.34 77.3,460.58 C77.57,456.82 77.83,452.68 78.1,448.17 C78.37,443.65 78.63,438.76 78.9,433.5 C79.17,428.23 79.43,422.59 79.7,416.57 C79.97,410.55 80.23,405.79 80.5,397.39 C80.77,388.98 80.93,376.42 81.3,366.13 C81.67,355.85 82.23,342.39 82.7,335.68 C83.17,328.96 83.6,325.75 84.1,325.84 C84.6,325.94 85.1,333.86 85.7,336.26 C86.3,338.67 87.03,339.15 87.7,340.29 C88.37,341.43 89.03,342.96 89.7,343.09 C90.37,343.23 91.03,342.56 91.7,341.09 C92.37,339.62 93.03,336.24 93.7,334.28 C94.37,332.31 95.1,331.34 95.7,329.31 C96.3,327.29 96.82,319.83 97.3,322.1 C97.78,324.37 98.2,335.6 98.6,342.94 C99,350.28 99.5,362.43 99.7,366.13 C99.9,369.84 99.65,361.94 99.8,365.17 C99.95,368.39 100.33,379.08 100.6,385.48 C100.87,391.87 101.13,397.89 101.4,403.53 C101.67,409.18 101.93,414.44 102.2,419.33 C102.47,424.22 102.73,428.74 103,432.88 C103.27,437.01 103.53,440.78 103.8,444.16 C104.07,447.55 104.33,450.56 104.6,453.19 C104.87,455.82 105.13,458.08 105.4,459.96 C105.67,461.84 105.93,463.35 106.2,464.47 C106.47,465.6 106.73,466.35 107,466.73 C107.27,467.11 107.53,467.11 107.8,466.73 C108.07,466.35 108.33,465.6 108.6,464.47 C108.87,463.35 109.13,461.84 109.4,459.96 C109.67,458.08 109.93,455.82 110.2,453.19 C110.47,450.56 110.73,447.55 111,444.16 C111.27,440.78 111.53,437.01 111.8,432.88 C112.07,428.74 112.33,424.22 112.6,419.33 C112.87,414.44 113.13,409.18 113.4,403.53 C113.67,397.89 113.93,391.87 114.2,385.48 C114.47,379.08 114.8,368.39 115,365.17 C115.2,361.94 115.1,371.05 115.4,366.13 C115.7,361.22 116.33,343.92 116.8,335.68 C117.27,327.43 117.7,318.11 118.2,316.68 C118.7,315.25 119.2,324.03 119.8,327.1 C120.4,330.17 121.13,333.31 121.8,335.12 C122.47,336.92 123.13,337.79 123.8,337.92 C124.47,338.06 125.13,337.39 125.8,335.92 C126.47,334.45 127.13,329.98 127.8,329.11 C128.47,328.24 129.2,331.63 129.8,330.69 C130.4,329.75 130.92,321.2 131.4,323.48 C131.88,325.75 132.3,337.21 132.7,344.31 C133.1,351.42 133.63,362.21 133.8,366.13 C133.97,370.06 133.58,364.19 133.7,367.86 C133.82,371.53 134.23,381.78 134.5,388.17 C134.77,394.57 135.03,400.59 135.3,406.23 C135.57,411.87 135.83,417.14 136.1,422.03 C136.37,426.92 136.63,431.43 136.9,435.57 C137.17,439.71 137.43,443.47 137.7,446.86 C137.97,450.24 138.23,453.25 138.5,455.88 C138.77,458.52 139.03,460.77 139.3,462.65 C139.57,464.54 139.83,466.04 140.1,467.17 C140.37,468.3 140.63,469.05 140.9,469.43 C141.17,469.8 141.43,469.8 141.7,469.43 C141.97,469.05 142.23,468.3 142.5,467.17 C142.77,466.04 143.03,464.54 143.3,462.65 C143.57,460.77 143.83,458.52 144.1,455.88 C144.37,453.25 144.63,450.24 144.9,446.86 C145.17,443.47 145.43,439.71 145.7,435.57 C145.97,431.43 146.23,426.92 146.5,422.03 C146.77,417.14 147.03,411.87 147.3,406.23 C147.57,400.59 147.83,394.57 148.1,388.17 C148.37,381.78 148.7,371.53 148.9,367.86 C149.1,364.19 149,371.5 149.3,366.13 C149.6,360.77 150.23,342.25 150.7,335.68 C151.17,329.1 151.6,326.45 152.1,326.68 C152.6,326.92 153.1,334.59 153.7,337.1 C154.3,339.62 155.03,340.53 155.7,341.78 C156.37,343.02 157.03,344.45 157.7,344.58 C158.37,344.72 159.03,344.05 159.7,342.58 C160.37,341.11 161.03,339.03 161.7,335.77 C162.37,332.5 163.1,326.34 163.7,323.01 C164.3,319.68 164.82,313.52 165.3,315.79 C165.78,318.06 166.2,328.24 166.6,336.63 C167,345.02 167.55,361.33 167.7,366.13 C167.85,370.94 167.4,362.19 167.5,365.46 C167.6,368.73 168.03,379.38 168.3,385.77 C168.57,392.17 168.83,398.19 169.1,403.83 C169.37,409.47 169.63,414.74 169.9,419.63 C170.17,424.52 170.43,429.03 170.7,433.17 C170.97,437.31 171.23,441.07 171.5,444.45 C171.77,447.84 172.03,450.85 172.3,453.48 C172.57,456.12 172.83,458.37 173.1,460.25 C173.37,462.13 173.63,463.64 173.9,464.77 C174.17,465.9 174.43,466.65 174.7,467.02 C174.97,467.4 175.23,467.4 175.5,467.02 C175.77,466.65 176.03,465.9 176.3,464.77 C176.57,463.64 176.83,462.13 177.1,460.25 C177.37,458.37 177.63,456.12 177.9,453.48 C178.17,450.85 178.43,447.84 178.7,444.45 C178.97,441.07 179.23,437.31 179.5,433.17 C179.77,429.03 180.03,424.52 180.3,419.63 C180.57,414.74 180.83,409.47 181.1,403.83 C181.37,398.19 181.63,392.17 181.9,385.77 C182.17,379.38 182.5,368.73 182.7,365.46 C182.9,362.19 182.8,371.1 183.1,366.13 C183.4,361.17 184.03,343.8 184.5,335.68 C184.97,327.55 185.4,318.71 185.9,317.4 C186.4,316.09 186.9,323.82 187.5,327.82 C188.1,331.82 188.83,338.66 189.5,341.39 C190.17,344.11 190.83,344.06 191.5,344.19 C192.17,344.33 192.83,343.66 193.5,342.19 C194.17,340.72 194.83,337.98 195.5,335.38 C196.17,332.77 196.9,329.24 197.5,326.58 C198.1,323.91 198.62,317.09 199.1,319.36 C199.58,321.63 200,332.41 200.4,340.2 C200.8,348 201.27,361.53 201.5,366.13 C201.73,370.74 201.62,364.15 201.8,367.82 C201.98,371.48 202.33,381.73 202.6,388.13 C202.87,394.52 203.13,400.54 203.4,406.19 C203.67,411.83 203.93,417.09 204.2,421.98 C204.47,426.88 204.73,431.39 205,435.53 C205.27,439.66 205.53,443.43 205.8,446.81 C206.07,450.2 206.33,453.21 206.6,455.84 C206.87,458.47 207.13,460.73 207.4,462.61 C207.67,464.49 207.93,466 208.2,467.13 C208.47,468.25 208.73,469.01 209,469.38 C209.27,469.76 209.53,469.76 209.8,469.38 C210.07,469.01 210.33,468.25 210.6,467.13 C210.87,466 211.13,464.49 211.4,462.61 C211.67,460.73 211.93,458.47 212.2,455.84 C212.47,453.21 212.73,450.2 213,446.81 C213.27,443.43 213.53,439.66 213.8,435.53 C214.07,431.39 214.33,426.88 214.6,421.98 C214.87,417.09 215.13,411.83 215.4,406.19 C215.67,400.54 215.93,394.52 216.2,388.13 C216.47,381.73 216.8,371.48 217,367.82 C217.2,364.15 217.1,371.49 217.4,366.13 C217.7,360.78 218.33,342.79 218.8,335.68 C219.27,328.56 219.7,323.73 220.2,323.43 C220.7,323.12 221.2,331.09 221.8,333.85 C222.4,336.6 223.13,338.46 223.8,339.94 C224.47,341.42 225.13,342.61 225.8,342.74 C226.47,342.88 227.13,342.21 227.8,340.74 C228.47,339.27 229.13,337 229.8,333.93 C230.47,330.86 231.2,325.46 231.8,322.32 C232.4,319.19 232.92,312.84 233.4,315.11 C233.88,317.38 234.3,327.44 234.7,335.95 C235.1,344.45 235.6,361.01 235.8,366.13 C236,371.26 235.75,363.23 235.9,366.71 C236.05,370.2 236.43,380.63 236.7,387.03 C236.97,393.42 237.23,399.44 237.5,405.08 C237.77,410.73 238.03,415.99 238.3,420.88 C238.57,425.77 238.83,430.29 239.1,434.42 C239.37,438.56 239.63,442.32 239.9,445.71 C240.17,449.09 240.43,452.1 240.7,454.74 C240.97,457.37 241.23,459.63 241.5,461.51 C241.77,463.39 242.03,464.89 242.3,466.02 C242.57,467.15 242.83,467.9 243.1,468.28 C243.37,468.66 243.63,468.66 243.9,468.28 C244.17,467.9 244.43,467.15 244.7,466.02 C244.97,464.89 245.23,463.39 245.5,461.51 C245.77,459.63 246.03,457.37 246.3,454.74 C246.57,452.1 246.83,449.09 247.1,445.71 C247.37,442.32 247.63,438.56 247.9,434.42 C248.17,430.29 248.43,425.77 248.7,420.88 C248.97,415.99 249.23,410.73 249.5,405.08 C249.77,399.44 250.03,393.42 250.3,387.03 C250.57,380.63 250.9,370.2 251.1,366.71 C251.3,363.23 251.2,371.31 251.5,366.13 C251.8,360.96 252.43,344.33 252.9,335.68 C253.37,327.02 253.8,316.05 254.3,314.21 C254.8,312.36 255.3,321.22 255.9,324.62 C256.5,328.03 257.23,332.5 257.9,334.64 C258.57,336.78 259.23,337.31 259.9,337.44 C260.57,337.58 261.23,336.91 261.9,335.44 C262.57,333.97 263.23,331.04 263.9,328.63 C264.57,326.22 265.3,323.47 265.9,320.99 C266.5,318.52 267.02,311.51 267.5,313.78 C267.98,316.05 268.4,325.89 268.8,334.62 C269.2,343.34 269.65,358.62 269.9,366.13 C270.15,373.65 270.1,374.05 270.3,379.7 C270.5,385.34 270.83,393.62 271.1,400.01 C271.37,406.41 271.63,412.43 271.9,418.07 C272.17,423.71 272.43,428.98 272.7,433.87 C272.97,438.76 273.23,443.27 273.5,447.41 C273.77,451.55 274.03,455.31 274.3,458.69 C274.57,462.08 274.83,465.09 275.1,467.72 C275.37,470.36 275.63,472.61 275.9,474.49 C276.17,476.37 276.43,477.88 276.7,479.01 C276.97,480.14 277.23,480.89 277.5,481.26 C277.77,481.64 278.03,481.64 278.3,481.26 C278.57,480.89 278.83,480.14 279.1,479.01 C279.37,477.88 279.63,476.37 279.9,474.49 C280.17,472.61 280.43,470.36 280.7,467.72 C280.97,465.09 281.23,462.08 281.5,458.69 C281.77,455.31 282.03,451.55 282.3,447.41 C282.57,443.27 282.83,438.76 283.1,433.87 C283.37,428.98 283.63,423.71 283.9,418.07 C284.17,412.43 284.43,406.41 284.7,400.01 C284.97,393.62 285.3,385.74 285.5,379.7 C285.7,373.66 285.63,370 285.9,363.77 C286.17,357.53 286.68,347.3 287.1,342.3 C287.52,337.29 287.88,334.54 288.4,333.74 C288.92,332.93 289.53,335.46 290.2,337.48 C290.87,339.5 291.6,344.51 292.4,345.84 C293.2,347.18 294.25,347.19 295,345.51 C295.75,343.82 296.25,339.17 296.9,335.73 C297.55,332.28 298.13,329.61 298.9,324.86 C299.67,320.1 301.07,310.14 301.5,307.2" fill="none" stroke="#111111" stroke-width="1.5" stroke-linejoin="round" stroke-linecap="round" />
<path d="M73.5,486.76 C73.63,486.57 74.03,486.39 74.3,485.63 C74.57,484.88 74.83,483.75 75.1,482.25 C75.37,480.74 75.63,478.86 75.9,476.61 C76.17,474.35 76.43,471.72 76.7,468.71 C76.97,465.7 77.23,462.31 77.5,458.55 C77.77,454.79 78.03,450.65 78.3,446.14 C78.57,441.62 78.83,436.73 79.1,431.47 C79.37,426.2 79.63,420.56 79.9,414.54 C80.17,408.52 80.43,403.42 80.7,395.35 C80.97,387.29 81.13,376.08 81.5,366.13 C81.87,356.19 82.43,342.23 82.9,335.68 C83.37,329.12 83.8,326.56 84.3,326.82 C84.8,327.08 85.3,335.08 85.9,337.24 C86.5,339.39 87.23,338.88 87.9,339.77 C88.57,340.66 89.23,342.44 89.9,342.57 C90.57,342.71 91.23,342.04 91.9,340.57 C92.57,339.1 93.23,336.26 93.9,333.76 C94.57,331.25 95.3,328.1 95.9,325.52 C96.5,322.95 97.02,316.04 97.5,318.31 C97.98,320.58 98.4,331.18 98.8,339.15 C99.2,347.12 99.7,362.35 99.9,366.13 C100.1,369.92 99.85,359.17 100,361.84 C100.15,364.51 100.53,375.76 100.8,382.16 C101.07,388.55 101.33,394.57 101.6,400.21 C101.87,405.85 102.13,411.12 102.4,416.01 C102.67,420.9 102.93,425.42 103.2,429.55 C103.47,433.69 103.73,437.45 104,440.84 C104.27,444.22 104.53,447.23 104.8,449.87 C105.07,452.5 105.33,454.76 105.6,456.64 C105.87,458.52 106.13,460.02 106.4,461.15 C106.67,462.28 106.93,463.03 107.2,463.41 C107.47,463.79 107.73,463.79 108,463.41 C108.27,463.03 108.53,462.28 108.8,461.15 C109.07,460.02 109.33,458.52 109.6,456.64 C109.87,454.76 110.13,452.5 110.4,449.87 C110.67,447.23 110.93,444.22 111.2,440.84 C111.47,437.45 111.73,433.69 112,429.55 C112.27,425.42 112.53,420.9 112.8,416.01 C113.07,411.12 113.33,405.85 113.6,400.21 C113.87,394.57 114.13,388.55 114.4,382.16 C114.67,375.76 115,364.51 115.2,361.84 C115.4,359.17 115.3,370.49 115.6,366.13 C115.9,361.77 116.53,343.6 117,335.68 C117.47,327.76 117.9,319.72 118.4,318.61 C118.9,317.51 119.4,326.25 120,329.03 C120.6,331.82 121.33,333.82 122,335.34 C122.67,336.86 123.33,338.01 124,338.14 C124.67,338.28 125.33,337.61 126,336.14 C126.67,334.67 127.33,331.44 128,329.33 C128.67,327.22 129.4,325.65 130,323.47 C130.6,321.29 131.12,313.99 131.6,316.26 C132.08,318.53 132.5,328.78 132.9,337.1 C133.3,345.41 133.83,360.78 134,366.13 C134.17,371.49 133.78,365.32 133.9,369.22 C134.02,373.12 134.43,383.14 134.7,389.53 C134.97,395.93 135.23,401.95 135.5,407.59 C135.77,413.23 136.03,418.5 136.3,423.39 C136.57,428.28 136.83,432.79 137.1,436.93 C137.37,441.07 137.63,444.83 137.9,448.21 C138.17,451.6 138.43,454.61 138.7,457.24 C138.97,459.88 139.23,462.13 139.5,464.01 C139.77,465.89 140.03,467.4 140.3,468.53 C140.57,469.66 140.83,470.41 141.1,470.79 C141.37,471.16 141.63,471.16 141.9,470.79 C142.17,470.41 142.43,469.66 142.7,468.53 C142.97,467.4 143.23,465.89 143.5,464.01 C143.77,462.13 144.03,459.88 144.3,457.24 C144.57,454.61 144.83,451.6 145.1,448.21 C145.37,444.83 145.63,441.07 145.9,436.93 C146.17,432.79 146.43,428.28 146.7,423.39 C146.97,418.5 147.23,413.23 147.5,407.59 C147.77,401.95 148.03,395.93 148.3,389.53 C148.57,383.14 148.9,373.12 149.1,369.22 C149.3,365.32 149.2,371.72 149.5,366.13 C149.8,360.54 150.43,343.12 150.9,335.68 C151.37,328.24 151.8,322.12 152.3,321.49 C152.8,320.86 153.3,328.62 153.9,331.91 C154.5,335.2 155.23,339.22 155.9,341.24 C156.57,343.26 157.23,343.91 157.9,344.05 C158.57,344.18 159.23,343.51 159.9,342.04 C160.57,340.57 161.23,337.33 161.9,335.23 C162.57,333.13 163.3,331.62 163.9,329.46 C164.5,327.3 165.02,319.98 165.5,322.25 C165.98,324.52 166.4,335.77 166.8,343.08 C167.2,350.4 167.75,362.27 167.9,366.13 C168.05,370 167.6,362.85 167.7,366.26 C167.8,369.67 168.23,380.18 168.5,386.57 C168.77,392.97 169.03,398.99 169.3,404.63 C169.57,410.27 169.83,415.54 170.1,420.43 C170.37,425.32 170.63,429.83 170.9,433.97 C171.17,438.11 171.43,441.87 171.7,445.26 C171.97,448.64 172.23,451.65 172.5,454.28 C172.77,456.92 173.03,459.17 173.3,461.05 C173.57,462.94 173.83,464.44 174.1,465.57 C174.37,466.7 174.63,467.45 174.9,467.83 C175.17,468.2 175.43,468.2 175.7,467.83 C175.97,467.45 176.23,466.7 176.5,465.57 C176.77,464.44 177.03,462.94 177.3,461.05 C177.57,459.17 177.83,456.92 178.1,454.28 C178.37,451.65 178.63,448.64 178.9,445.26 C179.17,441.87 179.43,438.11 179.7,433.97 C179.97,429.83 180.23,425.32 180.5,420.43 C180.77,415.54 181.03,410.27 181.3,404.63 C181.57,398.99 181.83,392.97 182.1,386.57 C182.37,380.18 182.7,369.67 182.9,366.26 C183.1,362.85 183,371.23 183.3,366.13 C183.6,361.04 184.23,342.78 184.7,335.68 C185.17,328.57 185.6,323.8 186.1,323.51 C186.6,323.22 187.1,330.93 187.7,333.93 C188.3,336.93 189.03,339.78 189.7,341.5 C190.37,343.23 191.03,344.18 191.7,344.31 C192.37,344.44 193.03,343.78 193.7,342.31 C194.37,340.84 195.03,339.05 195.7,335.49 C196.37,331.93 197.1,324.57 197.7,320.94 C198.3,317.31 198.82,311.45 199.3,313.72 C199.78,316 200.2,325.83 200.6,334.56 C201,343.3 201.47,360.65 201.7,366.13 C201.93,371.61 201.82,363.85 202,367.45 C202.18,371.06 202.53,381.37 202.8,387.77 C203.07,394.16 203.33,400.18 203.6,405.82 C203.87,411.47 204.13,416.73 204.4,421.62 C204.67,426.51 204.93,431.03 205.2,435.17 C205.47,439.3 205.73,443.07 206,446.45 C206.27,449.84 206.53,452.85 206.8,455.48 C207.07,458.11 207.33,460.37 207.6,462.25 C207.87,464.13 208.13,465.64 208.4,466.76 C208.67,467.89 208.93,468.64 209.2,469.02 C209.47,469.4 209.73,469.4 210,469.02 C210.27,468.64 210.53,467.89 210.8,466.76 C211.07,465.64 211.33,464.13 211.6,462.25 C211.87,460.37 212.13,458.11 212.4,455.48 C212.67,452.85 212.93,449.84 213.2,446.45 C213.47,443.07 213.73,439.3 214,435.17 C214.27,431.03 214.53,426.51 214.8,421.62 C215.07,416.73 215.33,411.47 215.6,405.82 C215.87,400.18 216.13,394.16 216.4,387.77 C216.67,381.37 217,371.06 217.2,367.45 C217.4,363.85 217.3,371.43 217.6,366.13 C217.9,360.84 218.53,343.63 219,335.68 C219.47,327.72 219.9,319.54 220.4,318.4 C220.9,317.26 221.4,325.28 222,328.82 C222.6,332.35 223.33,337.34 224,339.6 C224.67,341.87 225.33,342.27 226,342.41 C226.67,342.54 227.33,341.87 228,340.4 C228.67,338.93 229.33,336.66 230,333.59 C230.67,330.52 231.4,325.12 232,321.98 C232.6,318.85 233.12,312.5 233.6,314.77 C234.08,317.04 234.5,327.05 234.9,335.61 C235.3,344.17 235.8,361.29 236,366.13 C236.2,370.98 235.95,361.54 236.1,364.69 C236.25,367.83 236.63,378.61 236.9,385 C237.17,391.4 237.43,397.41 237.7,403.06 C237.97,408.7 238.23,413.97 238.5,418.86 C238.77,423.75 239.03,428.26 239.3,432.4 C239.57,436.54 239.83,440.3 240.1,443.68 C240.37,447.07 240.63,450.08 240.9,452.71 C241.17,455.34 241.43,457.6 241.7,459.48 C241.97,461.36 242.23,462.87 242.5,464 C242.77,465.13 243.03,465.88 243.3,466.25 C243.57,466.63 243.83,466.63 244.1,466.25 C244.37,465.88 244.63,465.13 244.9,464 C245.17,462.87 245.43,461.36 245.7,459.48 C245.97,457.6 246.23,455.34 246.5,452.71 C246.77,450.08 247.03,447.07 247.3,443.68 C247.57,440.3 247.83,436.54 248.1,432.4 C248.37,428.26 248.63,423.75 248.9,418.86 C249.17,413.97 249.43,408.7 249.7,403.06 C249.97,397.41 250.23,391.4 250.5,385 C250.77,378.61 251.1,367.83 251.3,364.69 C251.5,361.54 251.4,370.97 251.7,366.13 C252,361.3 252.63,344.69 253.1,335.68 C253.57,326.66 254,314.26 254.5,312.06 C255,309.87 255.5,318.23 256.1,322.48 C256.7,326.74 257.43,334.59 258.1,337.58 C258.77,340.56 259.43,340.25 260.1,340.38 C260.77,340.51 261.43,339.85 262.1,338.38 C262.77,336.91 263.43,334.43 264.1,331.56 C264.77,328.7 265.5,324.1 266.1,321.17 C266.7,318.23 267.22,311.68 267.7,313.95 C268.18,316.22 268.6,326.1 269,334.79 C269.4,343.49 269.85,358.99 270.1,366.13 C270.35,373.27 270.3,372.33 270.5,377.63 C270.7,382.93 271.03,391.55 271.3,397.95 C271.57,404.34 271.83,410.36 272.1,416 C272.37,421.64 272.63,426.91 272.9,431.8 C273.17,436.69 273.43,441.2 273.7,445.34 C273.97,449.48 274.23,453.24 274.5,456.63 C274.77,460.01 275.03,463.02 275.3,465.66 C275.57,468.29 275.83,470.55 276.1,472.43 C276.37,474.31 276.63,475.81 276.9,476.94 C277.17,478.07 277.43,478.82 277.7,479.2 C277.97,479.57 278.23,479.57 278.5,479.2 C278.77,478.82 279.03,478.07 279.3,476.94 C279.57,475.81 279.83,474.31 280.1,472.43 C280.37,470.55 280.63,468.29 280.9,465.66 C281.17,463.02 281.43,460.01 281.7,456.63 C281.97,453.24 282.23,449.48 282.5,445.34 C282.77,441.2 283.03,436.69 283.3,431.8 C283.57,426.91 283.83,421.64 284.1,416 C284.37,410.36 284.63,404.34 284.9,397.95 C285.17,391.55 285.5,382.9 285.7,377.63 C285.9,372.37 285.83,372.43 286.1,366.36 C286.37,360.29 286.88,347.25 287.3,341.2 C287.72,335.15 288.08,330.48 288.6,330.06 C289.12,329.65 289.73,336.17 290.4,338.72 C291.07,341.27 291.8,344.45 292.6,345.35 C293.4,346.26 294.45,344.93 295.2,344.16 C295.95,343.39 296.45,344.07 297.1,340.75 C297.75,337.42 298.33,329.4 299.1,324.2 C299.87,319.01 301.27,312.02 301.7,309.58" fill="none" stroke="#ff1a1a" stroke-width="1.5" stroke-linejoin="round" stroke-linecap="round" />
<path d="M72.85,486.83 C72.98,486.64 73.38,486.46 73.65,485.7 C73.92,484.95 74.18,483.82 74.45,482.32 C74.72,480.81 74.98,478.93 75.25,476.68 C75.52,474.42 75.78,471.78 76.05,468.78 C76.32,465.77 76.58,462.38 76.85,458.62 C77.12,454.86 77.38,450.72 77.65,446.21 C77.92,441.69 78.18,436.8 78.45,431.53 C78.72,426.27 78.98,420.63 79.25,414.61 C79.52,408.59 79.78,403.5 80.05,395.42 C80.32,387.34 80.48,376.09 80.85,366.13 C81.22,356.18 81.78,342.94 82.25,335.68 C82.72,328.41 83.15,322.98 83.65,322.53 C84.15,322.07 84.65,330.44 85.25,332.95 C85.85,335.45 86.58,336.32 87.25,337.56 C87.92,338.79 88.58,340.23 89.25,340.36 C89.92,340.5 90.58,339.83 91.25,338.36 C91.92,336.89 92.58,332.8 93.25,331.55 C93.92,330.3 94.65,332.18 95.25,330.86 C95.85,329.54 96.37,321.37 96.85,323.64 C97.33,325.92 97.75,337.4 98.15,344.48 C98.55,351.57 99.05,362.98 99.25,366.13 C99.45,369.28 99.2,360.45 99.35,363.37 C99.5,366.3 99.88,377.29 100.15,383.69 C100.42,390.08 100.68,396.1 100.95,401.74 C101.22,407.38 101.48,412.65 101.75,417.54 C102.02,422.43 102.28,426.94 102.55,431.08 C102.82,435.22 103.08,438.98 103.35,442.37 C103.62,445.75 103.88,448.76 104.15,451.4 C104.42,454.03 104.68,456.29 104.95,458.17 C105.22,460.05 105.48,461.55 105.75,462.68 C106.02,463.81 106.28,464.56 106.55,464.94 C106.82,465.31 107.08,465.31 107.35,464.94 C107.62,464.56 107.88,463.81 108.15,462.68 C108.42,461.55 108.68,460.05 108.95,458.17 C109.22,456.29 109.48,454.03 109.75,451.4 C110.02,448.76 110.28,445.75 110.55,442.37 C110.82,438.98 111.08,435.22 111.35,431.08 C111.62,426.94 111.88,422.43 112.15,417.54 C112.42,412.65 112.68,407.38 112.95,401.74 C113.22,396.1 113.48,390.08 113.75,383.69 C114.02,377.29 114.35,366.3 114.55,363.37 C114.75,360.45 114.65,370.75 114.95,366.13 C115.25,361.52 115.88,343.21 116.35,335.68 C116.82,328.14 117.25,321.64 117.75,320.92 C118.25,320.2 118.75,328.91 119.35,331.34 C119.95,333.77 120.68,334.33 121.35,335.48 C122.02,336.64 122.68,338.16 123.35,338.29 C124.02,338.42 124.68,337.76 125.35,336.29 C126.02,334.82 126.68,331.06 127.35,329.47 C128.02,327.89 128.75,328.42 129.35,326.76 C129.95,325.11 130.47,317.28 130.95,319.55 C131.43,321.82 131.85,332.62 132.25,340.39 C132.65,348.15 133.18,361.28 133.35,366.13 C133.52,370.99 133.13,365.57 133.25,369.52 C133.37,373.48 133.78,383.44 134.05,389.84 C134.32,396.23 134.58,402.25 134.85,407.89 C135.12,413.54 135.38,418.8 135.65,423.69 C135.92,428.58 136.18,433.1 136.45,437.24 C136.72,441.37 136.98,445.14 137.25,448.52 C137.52,451.91 137.78,454.92 138.05,457.55 C138.32,460.18 138.58,462.44 138.85,464.32 C139.12,466.2 139.38,467.71 139.65,468.83 C139.92,469.96 140.18,470.71 140.45,471.09 C140.72,471.47 140.98,471.47 141.25,471.09 C141.52,470.71 141.78,469.96 142.05,468.83 C142.32,467.71 142.58,466.2 142.85,464.32 C143.12,462.44 143.38,460.18 143.65,457.55 C143.92,454.92 144.18,451.91 144.45,448.52 C144.72,445.14 144.98,441.37 145.25,437.24 C145.52,433.1 145.78,428.58 146.05,423.69 C146.32,418.8 146.58,413.54 146.85,407.89 C147.12,402.25 147.38,396.23 147.65,389.84 C147.92,383.44 148.25,373.48 148.45,369.52 C148.65,365.57 148.55,371.77 148.85,366.13 C149.15,360.49 149.78,343.33 150.25,335.68 C150.72,328.02 151.15,321.06 151.65,320.22 C152.15,319.37 152.65,327.21 153.25,330.63 C153.85,334.06 154.58,338.59 155.25,340.75 C155.92,342.9 156.58,343.42 157.25,343.55 C157.92,343.69 158.58,343.02 159.25,341.55 C159.92,340.08 160.58,336.93 161.25,334.74 C161.92,332.54 162.65,330.64 163.25,328.38 C163.85,326.12 164.37,318.9 164.85,321.17 C165.33,323.44 165.75,334.51 166.15,342.01 C166.55,349.5 167.1,362.29 167.25,366.13 C167.4,369.98 166.95,361.87 167.05,365.08 C167.15,368.29 167.58,379 167.85,385.39 C168.12,391.79 168.38,397.81 168.65,403.45 C168.92,409.09 169.18,414.36 169.45,419.25 C169.72,424.14 169.98,428.65 170.25,432.79 C170.52,436.93 170.78,440.69 171.05,444.08 C171.32,447.46 171.58,450.47 171.85,453.11 C172.12,455.74 172.38,458 172.65,459.88 C172.92,461.76 173.18,463.26 173.45,464.39 C173.72,465.52 173.98,466.27 174.25,466.65 C174.52,467.02 174.78,467.02 175.05,466.65 C175.32,466.27 175.58,465.52 175.85,464.39 C176.12,463.26 176.38,461.76 176.65,459.88 C176.92,458 177.18,455.74 177.45,453.11 C177.72,450.47 177.98,447.46 178.25,444.08 C178.52,440.69 178.78,436.93 179.05,432.79 C179.32,428.65 179.58,424.14 179.85,419.25 C180.12,414.36 180.38,409.09 180.65,403.45 C180.92,397.81 181.18,391.79 181.45,385.39 C181.72,379 182.05,368.29 182.25,365.08 C182.45,361.87 182.35,371.03 182.65,366.13 C182.95,361.23 183.58,343.04 184.05,335.68 C184.52,328.32 184.95,322.52 185.45,321.97 C185.95,321.42 186.45,329.43 187.05,332.39 C187.65,335.34 188.38,338.02 189.05,339.7 C189.72,341.39 190.38,342.38 191.05,342.51 C191.72,342.64 192.38,341.97 193.05,340.51 C193.72,339.04 194.38,336.36 195.05,333.69 C195.72,331.03 196.45,327.25 197.05,324.52 C197.65,321.78 198.17,315.03 198.65,317.3 C199.13,319.57 199.55,330 199.95,338.14 C200.35,346.28 200.82,361.25 201.05,366.13 C201.28,371.01 201.17,363.83 201.35,367.43 C201.53,371.03 201.88,381.35 202.15,387.74 C202.42,394.14 202.68,400.15 202.95,405.8 C203.22,411.44 203.48,416.71 203.75,421.6 C204.02,426.49 204.28,431 204.55,435.14 C204.82,439.28 205.08,443.04 205.35,446.42 C205.62,449.81 205.88,452.82 206.15,455.45 C206.42,458.08 206.68,460.34 206.95,462.22 C207.22,464.1 207.48,465.61 207.75,466.74 C208.02,467.86 208.28,468.62 208.55,468.99 C208.82,469.37 209.08,469.37 209.35,468.99 C209.62,468.62 209.88,467.86 210.15,466.74 C210.42,465.61 210.68,464.1 210.95,462.22 C211.22,460.34 211.48,458.08 211.75,455.45 C212.02,452.82 212.28,449.81 212.55,446.42 C212.82,443.04 213.08,439.28 213.35,435.14 C213.62,431 213.88,426.49 214.15,421.6 C214.42,416.71 214.68,411.44 214.95,405.8 C215.22,400.15 215.48,394.14 215.75,387.74 C216.02,381.35 216.35,371.03 216.55,367.43 C216.75,363.83 216.65,371.42 216.95,366.13 C217.25,360.84 217.88,342.92 218.35,335.68 C218.82,328.43 219.25,323.1 219.75,322.67 C220.25,322.24 220.75,331.11 221.35,333.09 C221.95,335.08 222.68,333.86 223.35,334.57 C224.02,335.29 224.68,337.25 225.35,337.38 C226.02,337.51 226.68,336.84 227.35,335.37 C228.02,333.91 228.68,330.72 229.35,328.56 C230.02,326.4 230.75,324.64 231.35,322.41 C231.95,320.18 232.47,312.92 232.95,315.19 C233.43,317.46 233.85,327.54 234.25,336.03 C234.65,344.52 235.15,361.1 235.35,366.13 C235.55,371.17 235.3,362.84 235.45,366.25 C235.6,369.65 235.98,380.17 236.25,386.56 C236.52,392.96 236.78,398.98 237.05,404.62 C237.32,410.26 237.58,415.53 237.85,420.42 C238.12,425.31 238.38,429.82 238.65,433.96 C238.92,438.1 239.18,441.86 239.45,445.24 C239.72,448.63 239.98,451.64 240.25,454.27 C240.52,456.91 240.78,459.16 241.05,461.04 C241.32,462.93 241.58,464.43 241.85,465.56 C242.12,466.69 242.38,467.44 242.65,467.82 C242.92,468.19 243.18,468.19 243.45,467.82 C243.72,467.44 243.98,466.69 244.25,465.56 C244.52,464.43 244.78,462.93 245.05,461.04 C245.32,459.16 245.58,456.91 245.85,454.27 C246.12,451.64 246.38,448.63 246.65,445.24 C246.92,441.86 247.18,438.1 247.45,433.96 C247.72,429.82 247.98,425.31 248.25,420.42 C248.52,415.53 248.78,410.26 249.05,404.62 C249.32,398.98 249.58,392.96 249.85,386.56 C250.12,380.17 250.45,369.65 250.65,366.25 C250.85,362.84 250.75,371.23 251.05,366.13 C251.35,361.04 251.98,344.19 252.45,335.68 C252.92,327.16 253.35,316.74 253.85,315.04 C254.35,313.34 254.85,321.72 255.45,325.46 C256.05,329.21 256.78,335.04 257.45,337.52 C258.12,340 258.78,340.19 259.45,340.33 C260.12,340.46 260.78,339.79 261.45,338.32 C262.12,336.85 262.78,333.44 263.45,331.51 C264.12,329.58 264.85,328.75 265.45,326.75 C266.05,324.76 266.57,317.27 267.05,319.54 C267.53,321.81 267.95,332.61 268.35,340.38 C268.75,348.14 269.2,359.52 269.45,366.13 C269.7,372.74 269.65,374.33 269.85,380.03 C270.05,385.73 270.38,393.95 270.65,400.34 C270.92,406.74 271.18,412.75 271.45,418.4 C271.72,424.04 271.98,429.31 272.25,434.2 C272.52,439.09 272.78,443.6 273.05,447.74 C273.32,451.88 273.58,455.64 273.85,459.02 C274.12,462.41 274.38,465.42 274.65,468.05 C274.92,470.68 275.18,472.94 275.45,474.82 C275.72,476.7 275.98,478.21 276.25,479.34 C276.52,480.46 276.78,481.22 277.05,481.59 C277.32,481.97 277.58,481.97 277.85,481.59 C278.12,481.22 278.38,480.46 278.65,479.34 C278.92,478.21 279.18,476.7 279.45,474.82 C279.72,472.94 279.98,470.68 280.25,468.05 C280.52,465.42 280.78,462.41 281.05,459.02 C281.32,455.64 281.58,451.88 281.85,447.74 C282.12,443.6 282.38,439.09 282.65,434.2 C282.92,429.31 283.18,424.04 283.45,418.4 C283.72,412.75 283.98,406.74 284.25,400.34 C284.52,393.95 284.85,385.93 285.05,380.03 C285.25,374.12 285.18,371.39 285.45,364.91 C285.72,358.43 286.23,346.56 286.65,341.13 C287.07,335.71 287.43,332.7 287.95,332.38 C288.47,332.06 289.08,336.84 289.75,339.21 C290.42,341.58 291.15,345.53 291.95,346.62 C292.75,347.71 293.8,347.51 294.55,345.74 C295.3,343.96 295.8,339.53 296.45,335.96 C297.1,332.4 297.68,328.82 298.45,324.32 C299.22,319.83 300.62,311.53 301.05,308.98" fill="none" stroke="#1414ff" stroke-width="1.5" stroke-linejoin="round" stroke-linecap="round" />
<path d="M73.65,486.51 C73.78,486.32 74.18,486.13 74.45,485.38 C74.72,484.63 74.98,483.5 75.25,482 C75.52,480.49 75.78,478.61 76.05,476.35 C76.32,474.1 76.58,471.46 76.85,468.45 C77.12,465.45 77.38,462.06 77.65,458.3 C77.92,454.54 78.18,450.4 78.45,445.88 C78.72,441.37 78.98,436.48 79.25,431.21 C79.52,425.95 79.78,420.31 80.05,414.29 C80.32,408.27 80.58,403.13 80.85,395.1 C81.12,387.08 81.28,376.04 81.65,366.13 C82.02,356.23 82.58,342.18 83.05,335.68 C83.52,329.17 83.95,326.79 84.45,327.1 C84.95,327.4 85.45,335.38 86.05,337.52 C86.65,339.65 87.38,339.03 88.05,339.9 C88.72,340.76 89.38,342.57 90.05,342.7 C90.72,342.83 91.38,342.17 92.05,340.7 C92.72,339.23 93.38,335.46 94.05,333.88 C94.72,332.31 95.45,332.87 96.05,331.23 C96.65,329.58 97.17,321.74 97.65,324.01 C98.13,326.28 98.55,337.83 98.95,344.85 C99.35,351.87 99.85,363.22 100.05,366.13 C100.25,369.05 100,359.59 100.15,362.34 C100.3,365.09 100.68,376.26 100.95,382.65 C101.22,389.05 101.48,395.07 101.75,400.71 C102.02,406.35 102.28,411.62 102.55,416.51 C102.82,421.4 103.08,425.91 103.35,430.05 C103.62,434.19 103.88,437.95 104.15,441.34 C104.42,444.72 104.68,447.73 104.95,450.36 C105.22,453 105.48,455.25 105.75,457.14 C106.02,459.02 106.28,460.52 106.55,461.65 C106.82,462.78 107.08,463.53 107.35,463.91 C107.62,464.28 107.88,464.28 108.15,463.91 C108.42,463.53 108.68,462.78 108.95,461.65 C109.22,460.52 109.48,459.02 109.75,457.14 C110.02,455.25 110.28,453 110.55,450.36 C110.82,447.73 111.08,444.72 111.35,441.34 C111.62,437.95 111.88,434.19 112.15,430.05 C112.42,425.91 112.68,421.4 112.95,416.51 C113.22,411.62 113.48,406.35 113.75,400.71 C114.02,395.07 114.28,389.05 114.55,382.65 C114.82,376.26 115.15,365.09 115.35,362.34 C115.55,359.59 115.45,370.58 115.75,366.13 C116.05,361.69 116.68,343.65 117.15,335.68 C117.62,327.7 118.05,319.44 118.55,318.27 C119.05,317.11 119.55,325.76 120.15,328.69 C120.75,331.62 121.48,334.19 122.15,335.84 C122.82,337.5 123.48,338.52 124.15,338.65 C124.82,338.78 125.48,338.12 126.15,336.65 C126.82,335.18 127.48,331.42 128.15,329.83 C128.82,328.25 129.55,328.8 130.15,327.16 C130.75,325.51 131.27,317.67 131.75,319.94 C132.23,322.21 132.65,333.08 133.05,340.78 C133.45,348.48 133.98,361.3 134.15,366.13 C134.32,370.97 133.93,365.79 134.05,369.78 C134.17,373.78 134.58,383.7 134.85,390.1 C135.12,396.49 135.38,402.51 135.65,408.15 C135.92,413.8 136.18,419.06 136.45,423.95 C136.72,428.84 136.98,433.36 137.25,437.5 C137.52,441.63 137.78,445.39 138.05,448.78 C138.32,452.17 138.58,455.18 138.85,457.81 C139.12,460.44 139.38,462.7 139.65,464.58 C139.92,466.46 140.18,467.96 140.45,469.09 C140.72,470.22 140.98,470.97 141.25,471.35 C141.52,471.73 141.78,471.73 142.05,471.35 C142.32,470.97 142.58,470.22 142.85,469.09 C143.12,467.96 143.38,466.46 143.65,464.58 C143.92,462.7 144.18,460.44 144.45,457.81 C144.72,455.18 144.98,452.17 145.25,448.78 C145.52,445.39 145.78,441.63 146.05,437.5 C146.32,433.36 146.58,428.84 146.85,423.95 C147.12,419.06 147.38,413.8 147.65,408.15 C147.92,402.51 148.18,396.49 148.45,390.1 C148.72,383.7 149.05,373.78 149.25,369.78 C149.45,365.79 149.35,371.82 149.65,366.13 C149.95,360.45 150.58,342.45 151.05,335.68 C151.52,328.9 151.95,325.45 152.45,325.49 C152.95,325.53 153.45,333.94 154.05,335.91 C154.65,337.88 155.38,336.61 156.05,337.32 C156.72,338.02 157.38,339.99 158.05,340.12 C158.72,340.26 159.38,339.59 160.05,338.12 C160.72,336.65 161.38,332.81 162.05,331.31 C162.72,329.8 163.45,330.65 164.05,329.07 C164.65,327.5 165.17,319.59 165.65,321.86 C166.13,324.13 166.55,335.32 166.95,342.7 C167.35,350.08 167.9,362.21 168.05,366.13 C168.2,370.05 167.75,362.81 167.85,366.21 C167.95,369.61 168.38,380.13 168.65,386.52 C168.92,392.92 169.18,398.94 169.45,404.58 C169.72,410.22 169.98,415.49 170.25,420.38 C170.52,425.27 170.78,429.78 171.05,433.92 C171.32,438.06 171.58,441.82 171.85,445.21 C172.12,448.59 172.38,451.6 172.65,454.23 C172.92,456.87 173.18,459.12 173.45,461 C173.72,462.89 173.98,464.39 174.25,465.52 C174.52,466.65 174.78,467.4 175.05,467.78 C175.32,468.15 175.58,468.15 175.85,467.78 C176.12,467.4 176.38,466.65 176.65,465.52 C176.92,464.39 177.18,462.89 177.45,461 C177.72,459.12 177.98,456.87 178.25,454.23 C178.52,451.6 178.78,448.59 179.05,445.21 C179.32,441.82 179.58,438.06 179.85,433.92 C180.12,429.78 180.38,425.27 180.65,420.38 C180.92,415.49 181.18,410.22 181.45,404.58 C181.72,398.94 181.98,392.92 182.25,386.52 C182.52,380.13 182.85,369.61 183.05,366.21 C183.25,362.81 183.15,371.22 183.45,366.13 C183.75,361.04 184.38,343.93 184.85,335.68 C185.32,327.42 185.75,318.03 186.25,316.58 C186.75,315.13 187.25,323.35 187.85,327 C188.45,330.65 189.18,336.08 189.85,338.45 C190.52,340.83 191.18,341.12 191.85,341.26 C192.52,341.39 193.18,340.72 193.85,339.25 C194.52,337.79 195.18,334.99 195.85,332.44 C196.52,329.89 197.25,326.58 197.85,323.96 C198.45,321.34 198.97,314.48 199.45,316.75 C199.93,319.02 200.35,329.35 200.75,337.59 C201.15,345.82 201.62,360.82 201.85,366.13 C202.08,371.45 201.97,365.53 202.15,369.47 C202.33,373.41 202.68,383.39 202.95,389.78 C203.22,396.18 203.48,402.2 203.75,407.84 C204.02,413.48 204.28,418.75 204.55,423.64 C204.82,428.53 205.08,433.04 205.35,437.18 C205.62,441.32 205.88,445.08 206.15,448.46 C206.42,451.85 206.68,454.86 206.95,457.49 C207.22,460.13 207.48,462.38 207.75,464.26 C208.02,466.14 208.28,467.65 208.55,468.78 C208.82,469.91 209.08,470.66 209.35,471.03 C209.62,471.41 209.88,471.41 210.15,471.03 C210.42,470.66 210.68,469.91 210.95,468.78 C211.22,467.65 211.48,466.14 211.75,464.26 C212.02,462.38 212.28,460.13 212.55,457.49 C212.82,454.86 213.08,451.85 213.35,448.46 C213.62,445.08 213.88,441.32 214.15,437.18 C214.42,433.04 214.68,428.53 214.95,423.64 C215.22,418.75 215.48,413.48 215.75,407.84 C216.02,402.2 216.28,396.18 216.55,389.78 C216.82,383.39 217.15,373.41 217.35,369.47 C217.55,365.53 217.45,371.77 217.75,366.13 C218.05,360.5 218.68,343.5 219.15,335.68 C219.62,327.85 220.05,320.19 220.55,319.18 C221.05,318.17 221.55,326.04 222.15,329.6 C222.75,333.16 223.48,338.27 224.15,340.56 C224.82,342.86 225.48,343.24 226.15,343.37 C226.82,343.5 227.48,342.83 228.15,341.37 C228.82,339.9 229.48,338.44 230.15,334.55 C230.82,330.66 231.55,321.99 232.15,318.04 C232.75,314.08 233.27,308.55 233.75,310.83 C234.23,313.1 234.65,322.45 235.05,331.66 C235.45,340.88 235.95,360.55 236.15,366.13 C236.35,371.72 236.1,361.95 236.25,365.17 C236.4,368.4 236.78,379.09 237.05,385.48 C237.32,391.88 237.58,397.9 237.85,403.54 C238.12,409.18 238.38,414.45 238.65,419.34 C238.92,424.23 239.18,428.74 239.45,432.88 C239.72,437.02 239.98,440.78 240.25,444.17 C240.52,447.55 240.78,450.56 241.05,453.19 C241.32,455.83 241.58,458.08 241.85,459.97 C242.12,461.85 242.38,463.35 242.65,464.48 C242.92,465.61 243.18,466.36 243.45,466.74 C243.72,467.11 243.98,467.11 244.25,466.74 C244.52,466.36 244.78,465.61 245.05,464.48 C245.32,463.35 245.58,461.85 245.85,459.97 C246.12,458.08 246.38,455.83 246.65,453.19 C246.92,450.56 247.18,447.55 247.45,444.17 C247.72,440.78 247.98,437.02 248.25,432.88 C248.52,428.74 248.78,424.23 249.05,419.34 C249.32,414.45 249.58,409.18 249.85,403.54 C250.12,397.9 250.38,391.88 250.65,385.48 C250.92,379.09 251.25,368.4 251.45,365.17 C251.65,361.95 251.55,371.05 251.85,366.13 C252.15,361.22 252.78,345.05 253.25,335.68 C253.72,326.3 254.15,312.43 254.65,309.86 C255.15,307.3 255.65,315.48 256.25,320.28 C256.85,325.08 257.58,335.14 258.25,338.67 C258.92,342.2 259.58,341.34 260.25,341.47 C260.92,341.61 261.58,340.94 262.25,339.47 C262.92,338 263.58,335.23 264.25,332.66 C264.92,330.09 265.65,326.68 266.25,324.04 C266.85,321.41 267.37,314.56 267.85,316.83 C268.33,319.1 268.75,329.45 269.15,337.67 C269.55,345.89 270,358.93 270.25,366.13 C270.5,373.34 270.45,375.04 270.65,380.89 C270.85,386.73 271.18,394.8 271.45,401.2 C271.72,407.59 271.98,413.61 272.25,419.26 C272.52,424.9 272.78,430.16 273.05,435.05 C273.32,439.94 273.58,444.46 273.85,448.6 C274.12,452.73 274.38,456.5 274.65,459.88 C274.92,463.27 275.18,466.28 275.45,468.91 C275.72,471.54 275.98,473.8 276.25,475.68 C276.52,477.56 276.78,479.07 277.05,480.2 C277.32,481.32 277.58,482.08 277.85,482.45 C278.12,482.83 278.38,482.83 278.65,482.45 C278.92,482.08 279.18,481.32 279.45,480.2 C279.72,479.07 279.98,477.56 280.25,475.68 C280.52,473.8 280.78,471.54 281.05,468.91 C281.32,466.28 281.58,463.27 281.85,459.88 C282.12,456.5 282.38,452.73 282.65,448.6 C282.92,444.46 283.18,439.94 283.45,435.05 C283.72,430.16 283.98,424.9 284.25,419.26 C284.52,413.61 284.78,407.59 285.05,401.2 C285.32,394.8 285.65,386.93 285.85,380.89 C286.05,374.85 285.98,371.12 286.25,364.96 C286.52,358.79 287.03,348.97 287.45,343.9 C287.87,338.83 288.23,335.72 288.75,334.54 C289.27,333.36 289.88,334.8 290.55,336.8 C291.22,338.8 291.95,344.63 292.75,346.56 C293.55,348.48 294.6,349.59 295.35,348.37 C296.1,347.15 296.6,343.19 297.25,339.22 C297.9,335.26 298.48,329.77 299.25,324.57 C300.02,319.38 301.42,310.79 301.85,308.04" fill="none" stroke="#2a9494" stroke-width="1.4" stroke-linejoin="round" stroke-linecap="round" />
<path d="M73.3,487.8 C73.43,487.61 73.83,487.42 74.1,486.67 C74.37,485.92 74.63,484.79 74.9,483.28 C75.17,481.78 75.43,479.9 75.7,477.64 C75.97,475.38 76.23,472.75 76.5,469.74 C76.77,466.73 77.03,463.34 77.3,459.58 C77.57,455.82 77.83,451.68 78.1,447.17 C78.37,442.66 78.63,437.77 78.9,432.5 C79.17,427.23 79.43,421.59 79.7,415.57 C79.97,409.55 80.23,404.63 80.5,396.39 C80.77,388.15 80.93,376.25 81.3,366.13 C81.67,356.01 82.23,342.42 82.7,335.68 C83.17,328.93 83.6,325.61 84.1,325.68 C84.6,325.74 85.1,334.05 85.7,336.09 C86.3,338.14 87.03,337.17 87.7,337.94 C88.37,338.72 89.03,340.62 89.7,340.75 C90.37,340.88 91.03,340.22 91.7,338.75 C92.37,337.28 93.03,333.95 93.7,331.93 C94.37,329.91 95.1,328.72 95.7,326.63 C96.3,324.54 96.82,317.15 97.3,319.42 C97.78,321.69 98.2,332.47 98.6,340.26 C99,348.04 99.5,362.3 99.7,366.13 C99.9,369.96 99.65,360.34 99.8,363.24 C99.95,366.15 100.33,377.16 100.6,383.56 C100.87,389.95 101.13,395.97 101.4,401.61 C101.67,407.26 101.93,412.52 102.2,417.41 C102.47,422.3 102.73,426.82 103,430.96 C103.27,435.09 103.53,438.85 103.8,442.24 C104.07,445.63 104.33,448.64 104.6,451.27 C104.87,453.9 105.13,456.16 105.4,458.04 C105.67,459.92 105.93,461.43 106.2,462.55 C106.47,463.68 106.73,464.43 107,464.81 C107.27,465.19 107.53,465.19 107.8,464.81 C108.07,464.43 108.33,463.68 108.6,462.55 C108.87,461.43 109.13,459.92 109.4,458.04 C109.67,456.16 109.93,453.9 110.2,451.27 C110.47,448.64 110.73,445.63 111,442.24 C111.27,438.85 111.53,435.09 111.8,430.96 C112.07,426.82 112.33,422.3 112.6,417.41 C112.87,412.52 113.13,407.26 113.4,401.61 C113.67,395.97 113.93,389.95 114.2,383.56 C114.47,377.16 114.8,366.15 115,363.24 C115.2,360.34 115.1,370.73 115.4,366.13 C115.7,361.54 116.33,342.98 116.8,335.68 C117.27,328.37 117.7,322.8 118.2,322.31 C118.7,321.82 119.2,330.41 119.8,332.73 C120.4,335.06 121.13,335.19 121.8,336.25 C122.47,337.3 123.13,338.92 123.8,339.05 C124.47,339.19 125.13,338.52 125.8,337.05 C126.47,335.58 127.13,332.1 127.8,330.24 C128.47,328.38 129.2,327.81 129.8,325.88 C130.4,323.96 130.92,316.4 131.4,318.67 C131.88,320.94 132.3,331.6 132.7,339.51 C133.1,347.42 133.63,361.09 133.8,366.13 C133.97,371.17 133.58,365.75 133.7,369.74 C133.82,373.73 134.23,383.66 134.5,390.05 C134.77,396.45 135.03,402.47 135.3,408.11 C135.57,413.75 135.83,419.02 136.1,423.91 C136.37,428.8 136.63,433.31 136.9,437.45 C137.17,441.59 137.43,445.35 137.7,448.74 C137.97,452.12 138.23,455.13 138.5,457.77 C138.77,460.4 139.03,462.66 139.3,464.54 C139.57,466.42 139.83,467.92 140.1,469.05 C140.37,470.18 140.63,470.93 140.9,471.31 C141.17,471.68 141.43,471.68 141.7,471.31 C141.97,470.93 142.23,470.18 142.5,469.05 C142.77,467.92 143.03,466.42 143.3,464.54 C143.57,462.66 143.83,460.4 144.1,457.77 C144.37,455.13 144.63,452.12 144.9,448.74 C145.17,445.35 145.43,441.59 145.7,437.45 C145.97,433.31 146.23,428.8 146.5,423.91 C146.77,419.02 147.03,413.75 147.3,408.11 C147.57,402.47 147.83,396.45 148.1,390.05 C148.37,383.66 148.7,373.73 148.9,369.74 C149.1,365.75 149,371.81 149.3,366.13 C149.6,360.46 150.23,342.75 150.7,335.68 C151.17,328.61 151.6,323.97 152.1,323.72 C152.6,323.46 153.1,331.38 153.7,334.14 C154.3,336.89 155.03,338.76 155.7,340.25 C156.37,341.73 157.03,342.92 157.7,343.05 C158.37,343.19 159.03,342.52 159.7,341.05 C160.37,339.58 161.03,336.52 161.7,334.24 C162.37,331.95 163.1,329.69 163.7,327.34 C164.3,324.99 164.82,317.86 165.3,320.13 C165.78,322.4 166.2,333.3 166.6,340.97 C167,348.63 167.55,361.72 167.7,366.13 C167.85,370.55 167.4,363.85 167.5,367.46 C167.6,371.07 168.03,381.38 168.3,387.77 C168.57,394.17 168.83,400.19 169.1,405.83 C169.37,411.47 169.63,416.74 169.9,421.63 C170.17,426.52 170.43,431.03 170.7,435.17 C170.97,439.31 171.23,443.07 171.5,446.46 C171.77,449.84 172.03,452.85 172.3,455.48 C172.57,458.12 172.83,460.37 173.1,462.25 C173.37,464.14 173.63,465.64 173.9,466.77 C174.17,467.9 174.43,468.65 174.7,469.03 C174.97,469.4 175.23,469.4 175.5,469.03 C175.77,468.65 176.03,467.9 176.3,466.77 C176.57,465.64 176.83,464.14 177.1,462.25 C177.37,460.37 177.63,458.12 177.9,455.48 C178.17,452.85 178.43,449.84 178.7,446.46 C178.97,443.07 179.23,439.31 179.5,435.17 C179.77,431.03 180.03,426.52 180.3,421.63 C180.57,416.74 180.83,411.47 181.1,405.83 C181.37,400.19 181.63,394.17 181.9,387.77 C182.17,381.38 182.5,371.07 182.7,367.46 C182.9,363.85 182.8,371.43 183.1,366.13 C183.4,360.84 184.03,343.23 184.5,335.68 C184.97,328.12 185.4,321.56 185.9,320.82 C186.4,320.08 186.9,328.04 187.5,331.24 C188.1,334.44 188.83,338.09 189.5,340.02 C190.17,341.95 190.83,342.69 191.5,342.82 C192.17,342.96 192.83,342.29 193.5,340.82 C194.17,339.35 194.83,336.93 195.5,334.01 C196.17,331.08 196.9,326.27 197.5,323.28 C198.1,320.29 198.62,313.79 199.1,316.07 C199.58,318.34 200,328.56 200.4,336.9 C200.8,345.25 201.27,360.82 201.5,366.13 C201.73,371.45 201.62,364.95 201.8,368.78 C201.98,372.61 202.33,382.7 202.6,389.09 C202.87,395.49 203.13,401.51 203.4,407.15 C203.67,412.79 203.93,418.06 204.2,422.95 C204.47,427.84 204.73,432.35 205,436.49 C205.27,440.63 205.53,444.39 205.8,447.78 C206.07,451.16 206.33,454.17 206.6,456.8 C206.87,459.44 207.13,461.69 207.4,463.58 C207.67,465.46 207.93,466.96 208.2,468.09 C208.47,469.22 208.73,469.97 209,470.35 C209.27,470.72 209.53,470.72 209.8,470.35 C210.07,469.97 210.33,469.22 210.6,468.09 C210.87,466.96 211.13,465.46 211.4,463.58 C211.67,461.69 211.93,459.44 212.2,456.8 C212.47,454.17 212.73,451.16 213,447.78 C213.27,444.39 213.53,440.63 213.8,436.49 C214.07,432.35 214.33,427.84 214.6,422.95 C214.87,418.06 215.13,412.79 215.4,407.15 C215.67,401.51 215.93,395.49 216.2,389.09 C216.47,382.7 216.8,372.61 217,368.78 C217.2,364.95 217.1,371.65 217.4,366.13 C217.7,360.62 218.33,343.26 218.8,335.68 C219.27,328.09 219.7,321.38 220.2,320.6 C220.7,319.83 221.2,328.06 221.8,331.02 C222.4,333.98 223.13,336.68 223.8,338.37 C224.47,340.06 225.13,341.04 225.8,341.17 C226.47,341.31 227.13,340.64 227.8,339.17 C228.47,337.7 229.13,335.24 229.8,332.36 C230.47,329.48 231.2,324.84 231.8,321.89 C232.4,318.94 232.92,312.41 233.4,314.68 C233.88,316.95 234.3,326.94 234.7,335.51 C235.1,344.09 235.6,361.36 235.8,366.13 C236,370.9 235.75,361.09 235.9,364.14 C236.05,367.19 236.43,378.06 236.7,384.45 C236.97,390.85 237.23,396.87 237.5,402.51 C237.77,408.15 238.03,413.42 238.3,418.31 C238.57,423.2 238.83,427.71 239.1,431.85 C239.37,435.99 239.63,439.75 239.9,443.14 C240.17,446.52 240.43,449.53 240.7,452.16 C240.97,454.8 241.23,457.05 241.5,458.94 C241.77,460.82 242.03,462.32 242.3,463.45 C242.57,464.58 242.83,465.33 243.1,465.71 C243.37,466.08 243.63,466.08 243.9,465.71 C244.17,465.33 244.43,464.58 244.7,463.45 C244.97,462.32 245.23,460.82 245.5,458.94 C245.77,457.05 246.03,454.8 246.3,452.16 C246.57,449.53 246.83,446.52 247.1,443.14 C247.37,439.75 247.63,435.99 247.9,431.85 C248.17,427.71 248.43,423.2 248.7,418.31 C248.97,413.42 249.23,408.15 249.5,402.51 C249.77,396.87 250.03,390.85 250.3,384.45 C250.57,378.06 250.9,367.19 251.1,364.14 C251.3,361.09 251.2,370.88 251.5,366.13 C251.8,361.39 252.43,344.43 252.9,335.68 C253.37,326.92 253.8,315.55 254.3,313.6 C254.8,311.66 255.3,320.03 255.9,324.02 C256.5,328.01 257.23,334.82 257.9,337.55 C258.57,340.27 259.23,340.22 259.9,340.35 C260.57,340.49 261.23,339.82 261.9,338.35 C262.57,336.88 263.23,334.28 263.9,331.54 C264.57,328.79 265.3,324.69 265.9,321.88 C266.5,319.07 267.02,312.4 267.5,314.67 C267.98,316.94 268.4,326.93 268.8,335.51 C269.2,344.08 269.65,358.83 269.9,366.13 C270.15,373.44 270.1,373.76 270.3,379.35 C270.5,384.94 270.83,393.27 271.1,399.66 C271.37,406.06 271.63,412.08 271.9,417.72 C272.17,423.36 272.43,428.63 272.7,433.52 C272.97,438.41 273.23,442.92 273.5,447.06 C273.77,451.2 274.03,454.96 274.3,458.35 C274.57,461.73 274.83,464.74 275.1,467.37 C275.37,470.01 275.63,472.26 275.9,474.15 C276.17,476.03 276.43,477.53 276.7,478.66 C276.97,479.79 277.23,480.54 277.5,480.92 C277.77,481.29 278.03,481.29 278.3,480.92 C278.57,480.54 278.83,479.79 279.1,478.66 C279.37,477.53 279.63,476.03 279.9,474.15 C280.17,472.26 280.43,470.01 280.7,467.37 C280.97,464.74 281.23,461.73 281.5,458.35 C281.77,454.96 282.03,451.2 282.3,447.06 C282.57,442.92 282.83,438.41 283.1,433.52 C283.37,428.63 283.63,423.36 283.9,417.72 C284.17,412.08 284.43,406.06 284.7,399.66 C284.97,393.27 285.3,385.13 285.5,379.35 C285.7,373.57 285.63,371.31 285.9,365.01 C286.17,358.7 286.68,347.11 287.1,341.52 C287.52,335.94 287.88,332.15 288.4,331.51 C288.92,330.87 289.53,335.42 290.2,337.67 C290.87,339.93 291.6,343.61 292.4,345.05 C293.2,346.49 294.25,347.56 295,346.33 C295.75,345.1 296.25,341.39 296.9,337.66 C297.55,333.94 298.13,328.9 298.9,323.97 C299.67,319.03 301.07,310.71 301.5,308.06" fill="none" stroke="#ff20ff" stroke-width="1.75" stroke-linejoin="round" stroke-linecap="round" />
<rect x="44.6" y="288.5" width="285" height="220.1" fill="none" stroke="#3a3a3a" stroke-width="1.3"/>
<line x1="72.9" y1="508.6" x2="72.9" y2="504.1" stroke="#3a3a3a" stroke-width="1.1" />
<line x1="130.05" y1="508.6" x2="130.05" y2="504.1" stroke="#3a3a3a" stroke-width="1.1" />
<line x1="187.2" y1="508.6" x2="187.2" y2="504.1" stroke="#3a3a3a" stroke-width="1.1" />
<line x1="244.35" y1="508.6" x2="244.35" y2="504.1" stroke="#3a3a3a" stroke-width="1.1" />
<line x1="301.5" y1="508.6" x2="301.5" y2="504.1" stroke="#3a3a3a" stroke-width="1.1" />
<line x1="101.47" y1="508.6" x2="101.47" y2="506.1" stroke="#3a3a3a" stroke-width="1.1" />
<line x1="158.62" y1="508.6" x2="158.62" y2="506.1" stroke="#3a3a3a" stroke-width="1.1" />
<line x1="215.78" y1="508.6" x2="215.78" y2="506.1" stroke="#3a3a3a" stroke-width="1.1" />
<line x1="272.92" y1="508.6" x2="272.92" y2="506.1" stroke="#3a3a3a" stroke-width="1.1" />
<line x1="44.6" y1="468.73" x2="49.1" y2="468.73" stroke="#3a3a3a" stroke-width="1.1" />
<line x1="44.6" y1="428.65" x2="49.1" y2="428.65" stroke="#3a3a3a" stroke-width="1.1" />
<line x1="44.6" y1="388.57" x2="49.1" y2="388.57" stroke="#3a3a3a" stroke-width="1.1" />
<line x1="44.6" y1="348.5" x2="49.1" y2="348.5" stroke="#3a3a3a" stroke-width="1.1" />
<line x1="44.6" y1="308.43" x2="49.1" y2="308.43" stroke="#3a3a3a" stroke-width="1.1" />
<line x1="44.6" y1="488.76" x2="47.1" y2="488.76" stroke="#3a3a3a" stroke-width="1.1" />
<line x1="44.6" y1="448.69" x2="47.1" y2="448.69" stroke="#3a3a3a" stroke-width="1.1" />
<line x1="44.6" y1="408.61" x2="47.1" y2="408.61" stroke="#3a3a3a" stroke-width="1.1" />
<line x1="44.6" y1="368.54" x2="47.1" y2="368.54" stroke="#3a3a3a" stroke-width="1.1" />
<line x1="44.6" y1="328.46" x2="47.1" y2="328.46" stroke="#3a3a3a" stroke-width="1.1" />
<text transform="translate(73.4 527) scale(1 1.08)" font-size="14.7" text-anchor="middle" fill="#111" font-family='"Liberation Sans", sans-serif' >0.4</text>
<text transform="translate(130.55 527) scale(1 1.08)" font-size="14.7" text-anchor="middle" fill="#111" font-family='"Liberation Sans", sans-serif' >0.5</text>
<text transform="translate(187.7 527) scale(1 1.08)" font-size="14.7" text-anchor="middle" fill="#111" font-family='"Liberation Sans", sans-serif' >0.6</text>
<text transform="translate(244.85 527) scale(1 1.08)" font-size="14.7" text-anchor="middle" fill="#111" font-family='"Liberation Sans", sans-serif' >0.7</text>
<text transform="translate(302 527) scale(1 1.08)" font-size="14.7" text-anchor="middle" fill="#111" font-family='"Liberation Sans", sans-serif' >0.8</text>
<text transform="translate(41.6 514.6) scale(1 1.08)" font-size="14.7" text-anchor="end" fill="#111" font-family='"Liberation Sans", sans-serif' >40</text>
<text transform="translate(41.6 474.53) scale(1 1.08)" font-size="14.7" text-anchor="end" fill="#111" font-family='"Liberation Sans", sans-serif' >45</text>
<text transform="translate(41.6 434.45) scale(1 1.08)" font-size="14.7" text-anchor="end" fill="#111" font-family='"Liberation Sans", sans-serif' >50</text>
<text transform="translate(41.6 394.38) scale(1 1.08)" font-size="14.7" text-anchor="end" fill="#111" font-family='"Liberation Sans", sans-serif' >55</text>
<text transform="translate(41.6 354.3) scale(1 1.08)" font-size="14.7" text-anchor="end" fill="#111" font-family='"Liberation Sans", sans-serif' >60</text>
<text transform="translate(41.6 314.23) scale(1 1.08)" font-size="14.7" text-anchor="end" fill="#111" font-family='"Liberation Sans", sans-serif' >65</text>
<text transform="translate(187.4 545.3) scale(1 1.08)" font-size="16" text-anchor="middle" fill="#111" font-family='"Liberation Sans", sans-serif' letter-spacing="0.35">Distance (mm)</text>
<text transform="translate(16.2 396.8) scale(1 1.08) rotate(-90)" font-size="15.4" text-anchor="middle" fill="#111" font-family='"Liberation Sans", sans-serif' letter-spacing="0.45">Mag (Oe)</text>
<text transform="translate(2.2 305.2) scale(1 1.08)" font-size="17.6" text-anchor="start" fill="#000" font-family='"Liberation Sans", sans-serif' letter-spacing="0.8">(c)</text>
<polygon points="129,357.5 138.2,357.5 142,434.5 132.6,434.5" fill="none" stroke="#ff2418" stroke-width="1.6" stroke-dasharray="4.2 3"/>
<line x1="139.3" y1="357.2" x2="346.79" y2="291.7" stroke="#000" stroke-width="1.8" />
<polygon points="352.8,289.8 345.36,296.13 343.07,288.89" fill="#000"/>
<line x1="138.6" y1="434.3" x2="346.83" y2="504.2" stroke="#000" stroke-width="1.8" />
<polygon points="352.8,506.2 343.06,506.94 345.48,499.73" fill="#000"/>
<polyline points="426.8,308.5 484,355.8 541.2,404.5 598.4,446.6 655.6,485.6" fill="none" stroke="#2a9494" stroke-width="1.8" stroke-linejoin="round" stroke-linecap="round" />
<polyline points="426.8,327.5 484,355.6 541.2,397 598.4,436 655.6,473.4" fill="none" stroke="#111111" stroke-width="1.8" stroke-linejoin="round" stroke-linecap="round" />
<polyline points="426.8,324.7 484,359.8 541.2,407 598.4,449 655.6,483.9" fill="none" stroke="#1414ff" stroke-width="1.8" stroke-linejoin="round" stroke-linecap="round" />
<polyline points="426.8,331.6 484,362 541.2,396.5 598.4,431 655.6,465.7" fill="none" stroke="#ff2cff" stroke-width="1.8" stroke-linejoin="round" stroke-linecap="round" />
<polyline points="426.8,341.6 484,382 541.2,419.8 598.4,453.4 655.6,482.4" fill="none" stroke="#ff1a1a" stroke-width="1.8" stroke-linejoin="round" stroke-linecap="round" />
<rect x="401" y="288.6" width="280" height="220" fill="none" stroke="#3a3a3a" stroke-width="1.3"/>
<line x1="426.9" y1="508.6" x2="426.9" y2="504.1" stroke="#3a3a3a" stroke-width="1.1" />
<line x1="478.9" y1="508.6" x2="478.9" y2="504.1" stroke="#3a3a3a" stroke-width="1.1" />
<line x1="530.9" y1="508.6" x2="530.9" y2="504.1" stroke="#3a3a3a" stroke-width="1.1" />
<line x1="582.9" y1="508.6" x2="582.9" y2="504.1" stroke="#3a3a3a" stroke-width="1.1" />
<line x1="634.9" y1="508.6" x2="634.9" y2="504.1" stroke="#3a3a3a" stroke-width="1.1" />
<line x1="452.9" y1="508.6" x2="452.9" y2="506.1" stroke="#3a3a3a" stroke-width="1.1" />
<line x1="504.9" y1="508.6" x2="504.9" y2="506.1" stroke="#3a3a3a" stroke-width="1.1" />
<line x1="556.9" y1="508.6" x2="556.9" y2="506.1" stroke="#3a3a3a" stroke-width="1.1" />
<line x1="608.9" y1="508.6" x2="608.9" y2="506.1" stroke="#3a3a3a" stroke-width="1.1" />
<line x1="660.9" y1="508.6" x2="660.9" y2="506.1" stroke="#3a3a3a" stroke-width="1.1" />
<line x1="401" y1="481.15" x2="405.5" y2="481.15" stroke="#3a3a3a" stroke-width="1.1" />
<line x1="401" y1="426.1" x2="405.5" y2="426.1" stroke="#3a3a3a" stroke-width="1.1" />
<line x1="401" y1="371.05" x2="405.5" y2="371.05" stroke="#3a3a3a" stroke-width="1.1" />
<line x1="401" y1="316" x2="405.5" y2="316" stroke="#3a3a3a" stroke-width="1.1" />
<line x1="401" y1="453.62" x2="403.5" y2="453.62" stroke="#3a3a3a" stroke-width="1.1" />
<line x1="401" y1="398.57" x2="403.5" y2="398.57" stroke="#3a3a3a" stroke-width="1.1" />
<line x1="401" y1="343.52" x2="403.5" y2="343.52" stroke="#3a3a3a" stroke-width="1.1" />
<text transform="translate(421.7 527) scale(1 1.08)" font-size="14.7" text-anchor="middle" fill="#111" font-family='"Liberation Sans", sans-serif' >0.506</text>
<text transform="translate(473.7 527) scale(1 1.08)" font-size="14.7" text-anchor="middle" fill="#111" font-family='"Liberation Sans", sans-serif' >0.507</text>
<text transform="translate(525.7 527) scale(1 1.08)" font-size="14.7" text-anchor="middle" fill="#111" font-family='"Liberation Sans", sans-serif' >0.508</text>
<text transform="translate(577.7 527) scale(1 1.08)" font-size="14.7" text-anchor="middle" fill="#111" font-family='"Liberation Sans", sans-serif' >0.509</text>
<text transform="translate(629.7 527) scale(1 1.08)" font-size="14.7" text-anchor="middle" fill="#111" font-family='"Liberation Sans", sans-serif' >0.51</text>
<text transform="translate(393.6 486.85) scale(1 1.08)" font-size="14.7" text-anchor="end" fill="#111" font-family='"Liberation Sans", sans-serif' >51</text>
<text transform="translate(393.6 431.8) scale(1 1.08)" font-size="14.7" text-anchor="end" fill="#111" font-family='"Liberation Sans", sans-serif' >54</text>
<text transform="translate(393.6 376.75) scale(1 1.08)" font-size="14.7" text-anchor="end" fill="#111" font-family='"Liberation Sans", sans-serif' >57</text>
<text transform="translate(393.6 321.7) scale(1 1.08)" font-size="14.7" text-anchor="end" fill="#111" font-family='"Liberation Sans", sans-serif' >60</text>
<text transform="translate(538.5 545.6) scale(1 1.08)" font-size="16" text-anchor="middle" fill="#111" font-family='"Liberation Sans", sans-serif' letter-spacing="0.35">Distance (mm)</text>
<text transform="translate(368.2 398.4) scale(1 1.08) rotate(-90)" font-size="15.4" text-anchor="middle" fill="#111" font-family='"Liberation Sans", sans-serif' letter-spacing="0.45">Mag (Oe)</text>
<text transform="translate(353.4 305.4) scale(1 1.08)" font-size="17.6" text-anchor="start" fill="#000" font-family='"Liberation Sans", sans-serif' letter-spacing="0.8">(d)</text>
<line x1="577.3" y1="314.3" x2="605.6" y2="314.3" stroke="#111111" stroke-width="1.7" />
<text transform="translate(608.1 319.4) scale(1 1.08)" font-size="14.3" text-anchor="start" fill="#111" font-family='"Liberation Sans", sans-serif' >b=0</text>
<line x1="577.3" y1="333.8" x2="605.6" y2="333.8" stroke="#ff1a1a" stroke-width="1.7" />
<text transform="translate(608.1 338.9) scale(1 1.08)" font-size="14.3" text-anchor="start" fill="#111" font-family='"Liberation Sans", sans-serif' >b=10</text>
<line x1="577.3" y1="353.3" x2="605.6" y2="353.3" stroke="#1a1aff" stroke-width="1.7" />
<text transform="translate(608.1 358.4) scale(1 1.08)" font-size="14.3" text-anchor="start" fill="#111" font-family='"Liberation Sans", sans-serif' >b=20</text>
<line x1="577.3" y1="372.8" x2="605.6" y2="372.8" stroke="#6b7262" stroke-width="1.7" />
<text transform="translate(608.1 377.9) scale(1 1.08)" font-size="14.3" text-anchor="start" fill="#111" font-family='"Liberation Sans", sans-serif' >b=30</text>
<line x1="577.3" y1="392.3" x2="605.6" y2="392.3" stroke="#ff3399" stroke-width="1.7" />
<text transform="translate(608.1 397.4) scale(1 1.08)" font-size="14.3" text-anchor="start" fill="#111" font-family='"Liberation Sans", sans-serif' >b=40</text>
</svg></body></html>
